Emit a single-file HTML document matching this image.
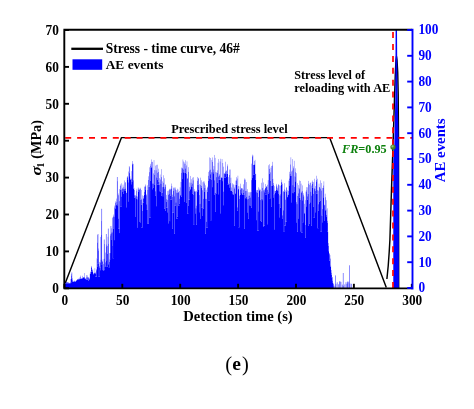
<!DOCTYPE html><html><head><meta charset="utf-8"><style>html,body{margin:0;padding:0;background:#fff;width:474px;height:409px;overflow:hidden}svg{display:block;filter:blur(0.4px);font-family:"Liberation Serif",serif}</style></head><body><svg width="474" height="409" viewBox="0 0 474 409"><rect width="474" height="409" fill="#fff"/><g fill="none" stroke="#000" stroke-width="1.45" stroke-linejoin="round"><polyline points="65.3,283 121.5,137.6 329.6,137.6 386.3,287.5"/><polyline points="386.9,279 388.2,266 389.2,252 389.9,240 391.0,205 391.8,180 393,147 393.9,118 394.6,95 395.4,72 396.0,60 396.5,56.5 397.0,60 397.7,72 398.2,95 398.5,140 398.7,288"/></g><g fill="#0000ff"><rect x="64.60" y="283.30" width="0.40" height="4.70" fill-opacity="1.00"/><rect x="64.60" y="283.20" width="0.40" height="0.10" fill-opacity="0.72"/><rect x="65.00" y="283.30" width="1.00" height="4.70" fill-opacity="1.00"/><rect x="65.00" y="283.19" width="1.00" height="0.11" fill-opacity="0.44"/><rect x="65.00" y="282.60" width="1.00" height="0.59" fill-opacity="0.29"/><rect x="66.00" y="283.30" width="1.00" height="4.70" fill-opacity="1.00"/><rect x="66.00" y="283.19" width="1.00" height="0.11" fill-opacity="0.71"/><rect x="66.00" y="282.09" width="1.00" height="1.10" fill-opacity="0.57"/><rect x="66.00" y="282.05" width="1.00" height="0.04" fill-opacity="0.28"/><rect x="67.00" y="283.30" width="1.00" height="4.70" fill-opacity="1.00"/><rect x="67.00" y="282.17" width="1.00" height="1.13" fill-opacity="0.58"/><rect x="67.00" y="282.12" width="1.00" height="0.05" fill-opacity="0.30"/><rect x="67.00" y="282.05" width="1.00" height="0.07" fill-opacity="0.01"/><rect x="68.00" y="283.30" width="1.00" height="4.70" fill-opacity="1.00"/><rect x="68.00" y="282.60" width="1.00" height="0.70" fill-opacity="0.55"/><rect x="68.00" y="282.26" width="1.00" height="0.33" fill-opacity="0.29"/><rect x="69.00" y="283.30" width="1.00" height="4.70" fill-opacity="1.00"/><rect x="69.00" y="283.21" width="1.00" height="0.09" fill-opacity="0.13"/><rect x="69.00" y="282.60" width="1.00" height="0.62" fill-opacity="0.03"/><rect x="70.00" y="283.21" width="1.00" height="4.79" fill-opacity="1.00"/><rect x="70.00" y="282.93" width="1.00" height="0.28" fill-opacity="0.81"/><rect x="70.00" y="282.28" width="1.00" height="0.64" fill-opacity="0.52"/><rect x="70.00" y="279.02" width="1.00" height="3.27" fill-opacity="0.29"/><rect x="71.00" y="282.28" width="1.00" height="5.72" fill-opacity="1.00"/><rect x="71.00" y="278.66" width="1.00" height="3.63" fill-opacity="0.94"/><rect x="71.00" y="278.02" width="1.00" height="0.63" fill-opacity="0.65"/><rect x="71.00" y="275.71" width="1.00" height="2.31" fill-opacity="0.58"/><rect x="71.00" y="274.10" width="1.00" height="1.61" fill-opacity="0.29"/><rect x="72.00" y="281.53" width="1.00" height="6.47" fill-opacity="1.00"/><rect x="72.00" y="281.41" width="1.00" height="0.12" fill-opacity="0.80"/><rect x="72.00" y="279.64" width="1.00" height="1.77" fill-opacity="0.51"/><rect x="72.00" y="278.02" width="1.00" height="1.62" fill-opacity="0.22"/><rect x="73.00" y="281.73" width="1.00" height="6.27" fill-opacity="1.00"/><rect x="73.00" y="281.60" width="1.00" height="0.13" fill-opacity="0.71"/><rect x="73.00" y="281.57" width="1.00" height="0.03" fill-opacity="0.42"/><rect x="73.00" y="281.53" width="1.00" height="0.03" fill-opacity="0.13"/><rect x="73.00" y="280.69" width="1.00" height="0.85" fill-opacity="0.05"/><rect x="74.00" y="281.99" width="1.00" height="6.01" fill-opacity="1.00"/><rect x="74.00" y="281.33" width="1.00" height="0.66" fill-opacity="0.82"/><rect x="74.00" y="280.81" width="1.00" height="0.52" fill-opacity="0.53"/><rect x="74.00" y="280.69" width="1.00" height="0.12" fill-opacity="0.24"/><rect x="75.00" y="281.99" width="1.00" height="6.01" fill-opacity="1.00"/><rect x="75.00" y="281.74" width="1.00" height="0.25" fill-opacity="0.89"/><rect x="75.00" y="281.22" width="1.00" height="0.52" fill-opacity="0.60"/><rect x="75.00" y="281.16" width="1.00" height="0.06" fill-opacity="0.31"/><rect x="75.00" y="280.88" width="1.00" height="0.29" fill-opacity="0.02"/><rect x="76.00" y="280.88" width="1.00" height="7.12" fill-opacity="1.00"/><rect x="76.00" y="280.30" width="1.00" height="0.58" fill-opacity="0.73"/><rect x="76.00" y="280.20" width="1.00" height="0.10" fill-opacity="0.44"/><rect x="76.00" y="280.01" width="1.00" height="0.19" fill-opacity="0.15"/><rect x="77.00" y="280.01" width="1.00" height="7.99" fill-opacity="1.00"/><rect x="77.00" y="279.49" width="1.00" height="0.52" fill-opacity="0.86"/><rect x="77.00" y="279.43" width="1.00" height="0.06" fill-opacity="0.57"/><rect x="77.00" y="278.98" width="1.00" height="0.44" fill-opacity="0.29"/><rect x="78.00" y="279.43" width="1.00" height="8.57" fill-opacity="1.00"/><rect x="78.00" y="279.37" width="1.00" height="0.06" fill-opacity="0.99"/><rect x="78.00" y="279.31" width="1.00" height="0.06" fill-opacity="0.70"/><rect x="78.00" y="279.20" width="1.00" height="0.12" fill-opacity="0.41"/><rect x="78.00" y="278.53" width="1.00" height="0.67" fill-opacity="0.29"/><rect x="79.00" y="279.20" width="1.00" height="8.80" fill-opacity="1.00"/><rect x="79.00" y="279.02" width="1.00" height="0.17" fill-opacity="0.84"/><rect x="79.00" y="279.00" width="1.00" height="0.03" fill-opacity="0.58"/><rect x="79.00" y="277.58" width="1.00" height="1.41" fill-opacity="0.29"/><rect x="80.00" y="279.02" width="1.00" height="8.98" fill-opacity="1.00"/><rect x="80.00" y="278.86" width="1.00" height="0.16" fill-opacity="0.97"/><rect x="80.00" y="278.69" width="1.00" height="0.17" fill-opacity="0.68"/><rect x="80.00" y="277.15" width="1.00" height="1.54" fill-opacity="0.58"/><rect x="80.00" y="275.59" width="1.00" height="1.56" fill-opacity="0.29"/><rect x="81.00" y="278.69" width="1.00" height="9.31" fill-opacity="1.00"/><rect x="81.00" y="278.60" width="1.00" height="0.09" fill-opacity="0.81"/><rect x="81.00" y="278.51" width="1.00" height="0.09" fill-opacity="0.52"/><rect x="81.00" y="278.43" width="1.00" height="0.09" fill-opacity="0.23"/><rect x="82.00" y="278.43" width="1.00" height="9.57" fill-opacity="1.00"/><rect x="82.00" y="278.05" width="1.00" height="0.37" fill-opacity="0.94"/><rect x="82.00" y="277.85" width="1.00" height="0.20" fill-opacity="0.65"/><rect x="82.00" y="277.65" width="1.00" height="0.20" fill-opacity="0.36"/><rect x="82.00" y="275.79" width="1.00" height="1.86" fill-opacity="0.29"/><rect x="83.00" y="277.65" width="1.00" height="10.35" fill-opacity="1.00"/><rect x="83.00" y="277.29" width="1.00" height="0.36" fill-opacity="0.78"/><rect x="83.00" y="277.24" width="1.00" height="0.05" fill-opacity="0.49"/><rect x="83.00" y="277.04" width="1.00" height="0.20" fill-opacity="0.20"/><rect x="84.00" y="278.22" width="1.00" height="9.78" fill-opacity="1.00"/><rect x="84.00" y="277.58" width="1.00" height="0.64" fill-opacity="0.95"/><rect x="84.00" y="277.26" width="1.00" height="0.32" fill-opacity="0.67"/><rect x="84.00" y="277.04" width="1.00" height="0.22" fill-opacity="0.38"/><rect x="84.00" y="273.01" width="1.00" height="4.03" fill-opacity="0.29"/><rect x="85.00" y="279.11" width="1.00" height="8.89" fill-opacity="1.00"/><rect x="85.00" y="278.86" width="1.00" height="0.25" fill-opacity="0.82"/><rect x="85.00" y="278.54" width="1.00" height="0.32" fill-opacity="0.53"/><rect x="85.00" y="278.22" width="1.00" height="0.32" fill-opacity="0.24"/><rect x="86.00" y="279.69" width="1.00" height="8.31" fill-opacity="1.00"/><rect x="86.00" y="279.11" width="1.00" height="0.58" fill-opacity="0.71"/><rect x="86.00" y="277.29" width="1.00" height="1.82" fill-opacity="0.60"/><rect x="86.00" y="275.36" width="1.00" height="1.93" fill-opacity="0.31"/><rect x="86.00" y="275.00" width="1.00" height="0.36" fill-opacity="0.29"/><rect x="87.00" y="279.73" width="1.00" height="8.27" fill-opacity="1.00"/><rect x="87.00" y="277.26" width="1.00" height="2.48" fill-opacity="0.71"/><rect x="87.00" y="277.19" width="1.00" height="0.06" fill-opacity="0.42"/><rect x="87.00" y="275.36" width="1.00" height="1.83" fill-opacity="0.27"/><rect x="88.00" y="280.64" width="1.00" height="7.36" fill-opacity="1.00"/><rect x="88.00" y="278.08" width="1.00" height="2.56" fill-opacity="0.71"/><rect x="88.00" y="277.19" width="1.00" height="0.89" fill-opacity="0.43"/><rect x="88.00" y="277.17" width="1.00" height="0.02" fill-opacity="0.29"/><rect x="89.00" y="279.33" width="1.00" height="8.67" fill-opacity="1.00"/><rect x="89.00" y="279.09" width="1.00" height="0.24" fill-opacity="0.71"/><rect x="89.00" y="278.08" width="1.00" height="1.01" fill-opacity="0.42"/><rect x="89.00" y="277.82" width="1.00" height="0.26" fill-opacity="0.41"/><rect x="89.00" y="273.74" width="1.00" height="4.08" fill-opacity="0.12"/><rect x="90.00" y="273.74" width="1.00" height="14.26" fill-opacity="1.00"/><rect x="90.00" y="273.54" width="1.00" height="0.19" fill-opacity="0.83"/><rect x="90.00" y="272.20" width="1.00" height="1.34" fill-opacity="0.55"/><rect x="90.00" y="271.52" width="1.00" height="0.68" fill-opacity="0.26"/><rect x="91.00" y="271.52" width="1.00" height="16.48" fill-opacity="1.00"/><rect x="91.00" y="269.89" width="1.00" height="1.63" fill-opacity="0.97"/><rect x="91.00" y="267.93" width="1.00" height="1.96" fill-opacity="0.87"/><rect x="91.00" y="266.98" width="1.00" height="0.95" fill-opacity="0.58"/><rect x="91.00" y="265.93" width="1.00" height="1.06" fill-opacity="0.29"/><rect x="92.00" y="271.86" width="1.00" height="16.14" fill-opacity="1.00"/><rect x="92.00" y="270.33" width="1.00" height="1.52" fill-opacity="0.71"/><rect x="92.00" y="269.89" width="1.00" height="0.44" fill-opacity="0.42"/><rect x="92.00" y="269.17" width="1.00" height="0.72" fill-opacity="0.23"/><rect x="93.00" y="274.26" width="1.00" height="13.74" fill-opacity="1.00"/><rect x="93.00" y="273.84" width="1.00" height="0.42" fill-opacity="0.71"/><rect x="93.00" y="273.36" width="1.00" height="0.48" fill-opacity="0.42"/><rect x="93.00" y="272.53" width="1.00" height="0.83" fill-opacity="0.13"/><rect x="93.00" y="269.17" width="1.00" height="3.36" fill-opacity="0.06"/><rect x="94.00" y="273.22" width="1.00" height="14.78" fill-opacity="1.00"/><rect x="94.00" y="273.12" width="1.00" height="0.10" fill-opacity="0.71"/><rect x="94.00" y="272.53" width="1.00" height="0.59" fill-opacity="0.42"/><rect x="94.00" y="268.15" width="1.00" height="4.38" fill-opacity="0.20"/><rect x="95.00" y="276.56" width="1.00" height="11.44" fill-opacity="1.00"/><rect x="95.00" y="273.42" width="1.00" height="3.14" fill-opacity="0.96"/><rect x="95.00" y="273.41" width="1.00" height="0.01" fill-opacity="0.67"/><rect x="95.00" y="272.36" width="1.00" height="1.05" fill-opacity="0.38"/><rect x="95.00" y="268.15" width="1.00" height="4.21" fill-opacity="0.09"/><rect x="96.00" y="276.56" width="1.00" height="11.44" fill-opacity="1.00"/><rect x="96.00" y="270.24" width="1.00" height="6.32" fill-opacity="0.75"/><rect x="96.00" y="269.18" width="1.00" height="1.06" fill-opacity="0.47"/><rect x="96.00" y="258.34" width="1.00" height="10.84" fill-opacity="0.18"/><rect x="97.00" y="266.48" width="1.00" height="21.52" fill-opacity="1.00"/><rect x="97.00" y="263.56" width="1.00" height="2.92" fill-opacity="0.71"/><rect x="97.00" y="258.34" width="1.00" height="5.23" fill-opacity="0.69"/><rect x="97.00" y="242.66" width="1.00" height="15.67" fill-opacity="0.58"/><rect x="97.00" y="235.07" width="1.00" height="7.60" fill-opacity="0.29"/><rect x="98.00" y="276.45" width="1.00" height="11.55" fill-opacity="1.00"/><rect x="98.00" y="263.56" width="1.00" height="12.89" fill-opacity="0.85"/><rect x="98.00" y="250.61" width="1.00" height="12.95" fill-opacity="0.58"/><rect x="98.00" y="248.49" width="1.00" height="2.12" fill-opacity="0.29"/><rect x="99.00" y="276.45" width="1.00" height="11.55" fill-opacity="1.00"/><rect x="99.00" y="267.39" width="1.00" height="9.06" fill-opacity="0.86"/><rect x="99.00" y="266.19" width="1.00" height="1.20" fill-opacity="0.58"/><rect x="99.00" y="261.88" width="1.00" height="4.31" fill-opacity="0.29"/><rect x="100.00" y="270.14" width="1.00" height="17.86" fill-opacity="1.00"/><rect x="100.00" y="267.39" width="1.00" height="2.75" fill-opacity="0.71"/><rect x="100.00" y="262.32" width="1.00" height="5.07" fill-opacity="0.70"/><rect x="100.00" y="259.42" width="1.00" height="2.90" fill-opacity="0.41"/><rect x="100.00" y="236.93" width="1.00" height="22.49" fill-opacity="0.29"/><rect x="101.00" y="264.89" width="1.00" height="23.11" fill-opacity="1.00"/><rect x="101.00" y="259.42" width="1.00" height="5.47" fill-opacity="0.75"/><rect x="101.00" y="234.89" width="1.00" height="24.53" fill-opacity="0.58"/><rect x="101.00" y="221.07" width="1.00" height="13.82" fill-opacity="0.29"/><rect x="102.00" y="270.06" width="1.00" height="17.94" fill-opacity="1.00"/><rect x="102.00" y="264.89" width="1.00" height="5.17" fill-opacity="0.71"/><rect x="102.00" y="262.00" width="1.00" height="2.89" fill-opacity="0.68"/><rect x="102.00" y="260.83" width="1.00" height="1.17" fill-opacity="0.39"/><rect x="102.00" y="259.01" width="1.00" height="1.82" fill-opacity="0.10"/><rect x="103.00" y="270.74" width="1.00" height="17.26" fill-opacity="1.00"/><rect x="103.00" y="269.65" width="1.00" height="1.09" fill-opacity="0.71"/><rect x="103.00" y="264.08" width="1.00" height="5.56" fill-opacity="0.48"/><rect x="103.00" y="259.01" width="1.00" height="5.08" fill-opacity="0.19"/><rect x="104.00" y="270.14" width="1.00" height="17.86" fill-opacity="1.00"/><rect x="104.00" y="269.65" width="1.00" height="0.50" fill-opacity="0.71"/><rect x="104.00" y="266.77" width="1.00" height="2.87" fill-opacity="0.65"/><rect x="104.00" y="258.71" width="1.00" height="8.06" fill-opacity="0.58"/><rect x="104.00" y="244.05" width="1.00" height="14.65" fill-opacity="0.29"/><rect x="105.00" y="266.77" width="1.00" height="21.23" fill-opacity="1.00"/><rect x="105.00" y="266.09" width="1.00" height="0.68" fill-opacity="0.78"/><rect x="105.00" y="262.28" width="1.00" height="3.81" fill-opacity="0.58"/><rect x="105.00" y="252.57" width="1.00" height="9.71" fill-opacity="0.29"/><rect x="106.00" y="266.60" width="1.00" height="21.40" fill-opacity="1.00"/><rect x="106.00" y="266.09" width="1.00" height="0.51" fill-opacity="0.96"/><rect x="106.00" y="260.46" width="1.00" height="5.64" fill-opacity="0.87"/><rect x="106.00" y="246.52" width="1.00" height="13.93" fill-opacity="0.58"/><rect x="106.00" y="244.55" width="1.00" height="1.97" fill-opacity="0.29"/><rect x="107.00" y="266.60" width="1.00" height="21.40" fill-opacity="1.00"/><rect x="107.00" y="253.74" width="1.00" height="12.86" fill-opacity="0.75"/><rect x="107.00" y="245.87" width="1.00" height="7.87" fill-opacity="0.46"/><rect x="107.00" y="236.75" width="1.00" height="9.12" fill-opacity="0.17"/><rect x="108.00" y="267.25" width="1.00" height="20.75" fill-opacity="1.00"/><rect x="108.00" y="264.91" width="1.00" height="2.34" fill-opacity="0.98"/><rect x="108.00" y="264.08" width="1.00" height="0.83" fill-opacity="0.69"/><rect x="108.00" y="243.87" width="1.00" height="20.21" fill-opacity="0.40"/><rect x="108.00" y="236.75" width="1.00" height="7.11" fill-opacity="0.11"/><rect x="109.00" y="267.25" width="1.00" height="20.75" fill-opacity="1.00"/><rect x="109.00" y="261.70" width="1.00" height="5.55" fill-opacity="0.73"/><rect x="109.00" y="259.19" width="1.00" height="2.50" fill-opacity="0.44"/><rect x="109.00" y="253.06" width="1.00" height="6.13" fill-opacity="0.29"/><rect x="110.00" y="259.19" width="1.00" height="28.81" fill-opacity="1.00"/><rect x="110.00" y="253.05" width="1.00" height="6.15" fill-opacity="0.86"/><rect x="110.00" y="235.49" width="1.00" height="17.56" fill-opacity="0.57"/><rect x="110.00" y="233.94" width="1.00" height="1.55" fill-opacity="0.28"/><rect x="111.00" y="239.98" width="1.00" height="48.02" fill-opacity="1.00"/><rect x="111.00" y="233.94" width="1.00" height="6.03" fill-opacity="0.71"/><rect x="111.00" y="233.19" width="1.00" height="0.75" fill-opacity="0.70"/><rect x="111.00" y="231.73" width="1.00" height="1.46" fill-opacity="0.41"/><rect x="111.00" y="228.32" width="1.00" height="3.41" fill-opacity="0.29"/><rect x="112.00" y="258.18" width="1.00" height="29.82" fill-opacity="1.00"/><rect x="112.00" y="246.00" width="1.00" height="12.18" fill-opacity="0.75"/><rect x="112.00" y="232.62" width="1.00" height="13.37" fill-opacity="0.46"/><rect x="112.00" y="231.73" width="1.00" height="0.89" fill-opacity="0.17"/><rect x="113.00" y="258.18" width="1.00" height="29.82" fill-opacity="1.00"/><rect x="113.00" y="228.91" width="1.00" height="29.27" fill-opacity="0.96"/><rect x="113.00" y="216.45" width="1.00" height="12.47" fill-opacity="0.67"/><rect x="113.00" y="216.42" width="1.00" height="0.02" fill-opacity="0.39"/><rect x="113.00" y="214.52" width="1.00" height="1.90" fill-opacity="0.29"/><rect x="114.00" y="240.08" width="1.00" height="47.92" fill-opacity="1.00"/><rect x="114.00" y="216.42" width="1.00" height="23.66" fill-opacity="0.71"/><rect x="114.00" y="207.41" width="1.00" height="9.01" fill-opacity="0.52"/><rect x="114.00" y="205.58" width="1.00" height="1.83" fill-opacity="0.29"/><rect x="115.00" y="208.54" width="1.00" height="79.46" fill-opacity="1.00"/><rect x="115.00" y="207.41" width="1.00" height="1.13" fill-opacity="0.71"/><rect x="115.00" y="205.14" width="1.00" height="2.26" fill-opacity="0.65"/><rect x="115.00" y="202.77" width="1.00" height="2.37" fill-opacity="0.58"/><rect x="115.00" y="201.35" width="1.00" height="1.42" fill-opacity="0.29"/><rect x="116.00" y="205.14" width="1.00" height="82.86" fill-opacity="1.00"/><rect x="116.00" y="204.59" width="1.00" height="0.55" fill-opacity="0.78"/><rect x="116.00" y="201.65" width="1.00" height="2.95" fill-opacity="0.49"/><rect x="116.00" y="198.58" width="1.00" height="3.06" fill-opacity="0.29"/><rect x="117.00" y="205.93" width="1.00" height="82.07" fill-opacity="1.00"/><rect x="117.00" y="204.34" width="1.00" height="1.58" fill-opacity="0.71"/><rect x="117.00" y="201.65" width="1.00" height="2.70" fill-opacity="0.42"/><rect x="117.00" y="193.43" width="1.00" height="8.22" fill-opacity="0.33"/><rect x="117.00" y="181.24" width="1.00" height="12.19" fill-opacity="0.29"/><rect x="118.00" y="228.53" width="1.00" height="59.47" fill-opacity="1.00"/><rect x="118.00" y="218.47" width="1.00" height="10.06" fill-opacity="0.83"/><rect x="118.00" y="195.20" width="1.00" height="23.27" fill-opacity="0.54"/><rect x="118.00" y="193.43" width="1.00" height="1.77" fill-opacity="0.25"/><rect x="119.00" y="233.03" width="1.00" height="54.97" fill-opacity="1.00"/><rect x="119.00" y="228.53" width="1.00" height="4.50" fill-opacity="0.71"/><rect x="119.00" y="201.12" width="1.00" height="27.41" fill-opacity="0.59"/><rect x="119.00" y="189.07" width="1.00" height="12.05" fill-opacity="0.31"/><rect x="119.00" y="185.72" width="1.00" height="3.35" fill-opacity="0.02"/><rect x="120.00" y="206.36" width="1.00" height="81.64" fill-opacity="1.00"/><rect x="120.00" y="189.70" width="1.00" height="16.66" fill-opacity="0.85"/><rect x="120.00" y="185.72" width="1.00" height="3.98" fill-opacity="0.56"/><rect x="120.00" y="184.45" width="1.00" height="1.27" fill-opacity="0.29"/><rect x="121.00" y="206.36" width="1.00" height="81.64" fill-opacity="1.00"/><rect x="121.00" y="196.39" width="1.00" height="9.97" fill-opacity="0.86"/><rect x="121.00" y="189.49" width="1.00" height="6.90" fill-opacity="0.57"/><rect x="121.00" y="183.27" width="1.00" height="6.22" fill-opacity="0.28"/><rect x="122.00" y="192.00" width="1.00" height="96.00" fill-opacity="1.00"/><rect x="122.00" y="188.63" width="1.00" height="3.37" fill-opacity="0.71"/><rect x="122.00" y="187.68" width="1.00" height="0.95" fill-opacity="0.42"/><rect x="122.00" y="184.55" width="1.00" height="3.13" fill-opacity="0.13"/><rect x="122.00" y="183.27" width="1.00" height="1.28" fill-opacity="0.01"/><rect x="123.00" y="193.51" width="1.00" height="94.49" fill-opacity="1.00"/><rect x="123.00" y="188.60" width="1.00" height="4.91" fill-opacity="0.71"/><rect x="123.00" y="186.62" width="1.00" height="1.98" fill-opacity="0.42"/><rect x="123.00" y="184.55" width="1.00" height="2.07" fill-opacity="0.17"/><rect x="124.00" y="190.29" width="1.00" height="97.71" fill-opacity="1.00"/><rect x="124.00" y="189.01" width="1.00" height="1.28" fill-opacity="0.71"/><rect x="124.00" y="186.62" width="1.00" height="2.39" fill-opacity="0.42"/><rect x="124.00" y="182.38" width="1.00" height="4.24" fill-opacity="0.38"/><rect x="124.00" y="180.50" width="1.00" height="1.88" fill-opacity="0.29"/><rect x="125.00" y="190.55" width="1.00" height="97.45" fill-opacity="1.00"/><rect x="125.00" y="188.43" width="1.00" height="2.12" fill-opacity="0.77"/><rect x="125.00" y="182.38" width="1.00" height="6.05" fill-opacity="0.48"/><rect x="125.00" y="182.25" width="1.00" height="0.12" fill-opacity="0.29"/><rect x="126.00" y="207.21" width="1.00" height="80.79" fill-opacity="1.00"/><rect x="126.00" y="192.92" width="1.00" height="14.29" fill-opacity="0.71"/><rect x="126.00" y="192.67" width="1.00" height="0.25" fill-opacity="0.42"/><rect x="126.00" y="190.55" width="1.00" height="2.13" fill-opacity="0.13"/><rect x="126.00" y="177.46" width="1.00" height="13.09" fill-opacity="0.07"/><rect x="127.00" y="179.29" width="1.00" height="108.71" fill-opacity="1.00"/><rect x="127.00" y="177.46" width="1.00" height="1.83" fill-opacity="0.80"/><rect x="127.00" y="176.99" width="1.00" height="0.47" fill-opacity="0.58"/><rect x="127.00" y="176.00" width="1.00" height="0.98" fill-opacity="0.29"/><rect x="128.00" y="201.30" width="1.00" height="86.70" fill-opacity="1.00"/><rect x="128.00" y="182.28" width="1.00" height="19.02" fill-opacity="0.71"/><rect x="128.00" y="179.29" width="1.00" height="2.99" fill-opacity="0.42"/><rect x="128.00" y="171.54" width="1.00" height="7.75" fill-opacity="0.33"/><rect x="128.00" y="166.00" width="1.00" height="5.54" fill-opacity="0.04"/><rect x="129.00" y="176.13" width="1.00" height="111.87" fill-opacity="1.00"/><rect x="129.00" y="173.10" width="1.00" height="3.03" fill-opacity="0.83"/><rect x="129.00" y="167.17" width="1.00" height="5.93" fill-opacity="0.54"/><rect x="129.00" y="166.00" width="1.00" height="1.17" fill-opacity="0.25"/><rect x="130.00" y="179.70" width="1.00" height="108.30" fill-opacity="1.00"/><rect x="130.00" y="179.60" width="1.00" height="0.10" fill-opacity="0.71"/><rect x="130.00" y="178.67" width="1.00" height="0.93" fill-opacity="0.42"/><rect x="130.00" y="176.13" width="1.00" height="2.55" fill-opacity="0.13"/><rect x="130.00" y="171.12" width="1.00" height="5.01" fill-opacity="0.01"/><rect x="131.00" y="184.18" width="1.00" height="103.82" fill-opacity="1.00"/><rect x="131.00" y="181.97" width="1.00" height="2.21" fill-opacity="0.71"/><rect x="131.00" y="178.61" width="1.00" height="3.37" fill-opacity="0.56"/><rect x="131.00" y="171.12" width="1.00" height="7.49" fill-opacity="0.27"/><rect x="132.00" y="181.97" width="1.00" height="106.03" fill-opacity="1.00"/><rect x="132.00" y="164.31" width="1.00" height="17.66" fill-opacity="0.86"/><rect x="132.00" y="163.53" width="1.00" height="0.78" fill-opacity="0.57"/><rect x="132.00" y="161.05" width="1.00" height="2.48" fill-opacity="0.29"/><rect x="133.00" y="188.81" width="1.00" height="99.19" fill-opacity="1.00"/><rect x="133.00" y="187.80" width="1.00" height="1.01" fill-opacity="0.71"/><rect x="133.00" y="180.26" width="1.00" height="7.54" fill-opacity="0.59"/><rect x="133.00" y="163.87" width="1.00" height="16.39" fill-opacity="0.30"/><rect x="133.00" y="163.53" width="1.00" height="0.34" fill-opacity="0.01"/><rect x="134.00" y="197.61" width="1.00" height="90.39" fill-opacity="1.00"/><rect x="134.00" y="195.17" width="1.00" height="2.44" fill-opacity="0.75"/><rect x="134.00" y="190.01" width="1.00" height="5.16" fill-opacity="0.46"/><rect x="134.00" y="187.80" width="1.00" height="2.21" fill-opacity="0.17"/><rect x="135.00" y="216.41" width="1.00" height="71.59" fill-opacity="1.00"/><rect x="135.00" y="197.61" width="1.00" height="18.80" fill-opacity="0.71"/><rect x="135.00" y="196.55" width="1.00" height="1.06" fill-opacity="0.67"/><rect x="135.00" y="195.90" width="1.00" height="0.65" fill-opacity="0.38"/><rect x="135.00" y="195.01" width="1.00" height="0.89" fill-opacity="0.29"/><rect x="136.00" y="199.02" width="1.00" height="88.98" fill-opacity="1.00"/><rect x="136.00" y="195.90" width="1.00" height="3.12" fill-opacity="0.71"/><rect x="136.00" y="190.60" width="1.00" height="5.30" fill-opacity="0.51"/><rect x="136.00" y="188.74" width="1.00" height="1.86" fill-opacity="0.22"/><rect x="137.00" y="227.35" width="1.00" height="60.65" fill-opacity="1.00"/><rect x="137.00" y="199.25" width="1.00" height="28.10" fill-opacity="0.71"/><rect x="137.00" y="196.51" width="1.00" height="2.74" fill-opacity="0.42"/><rect x="137.00" y="188.74" width="1.00" height="7.78" fill-opacity="0.13"/><rect x="137.00" y="187.36" width="1.00" height="1.38" fill-opacity="0.07"/><rect x="138.00" y="191.97" width="1.00" height="96.03" fill-opacity="1.00"/><rect x="138.00" y="189.44" width="1.00" height="2.53" fill-opacity="0.71"/><rect x="138.00" y="188.13" width="1.00" height="1.31" fill-opacity="0.42"/><rect x="138.00" y="187.36" width="1.00" height="0.77" fill-opacity="0.22"/><rect x="139.00" y="221.39" width="1.00" height="66.61" fill-opacity="1.00"/><rect x="139.00" y="189.68" width="1.00" height="31.71" fill-opacity="0.71"/><rect x="139.00" y="189.18" width="1.00" height="0.49" fill-opacity="0.42"/><rect x="139.00" y="188.13" width="1.00" height="1.05" fill-opacity="0.13"/><rect x="139.00" y="187.75" width="1.00" height="0.38" fill-opacity="0.04"/><rect x="140.00" y="222.31" width="1.00" height="65.69" fill-opacity="1.00"/><rect x="140.00" y="199.76" width="1.00" height="22.55" fill-opacity="0.71"/><rect x="140.00" y="188.78" width="1.00" height="10.98" fill-opacity="0.54"/><rect x="140.00" y="187.75" width="1.00" height="1.03" fill-opacity="0.25"/><rect x="141.00" y="227.34" width="1.00" height="60.66" fill-opacity="1.00"/><rect x="141.00" y="204.86" width="1.00" height="22.48" fill-opacity="0.99"/><rect x="141.00" y="199.76" width="1.00" height="5.10" fill-opacity="0.70"/><rect x="141.00" y="198.77" width="1.00" height="0.99" fill-opacity="0.58"/><rect x="141.00" y="190.00" width="1.00" height="8.77" fill-opacity="0.29"/><rect x="142.00" y="227.34" width="1.00" height="60.66" fill-opacity="1.00"/><rect x="142.00" y="210.99" width="1.00" height="16.35" fill-opacity="0.72"/><rect x="142.00" y="202.56" width="1.00" height="8.43" fill-opacity="0.44"/><rect x="142.00" y="195.29" width="1.00" height="7.27" fill-opacity="0.29"/><rect x="143.00" y="202.56" width="1.00" height="85.44" fill-opacity="1.00"/><rect x="143.00" y="198.99" width="1.00" height="3.57" fill-opacity="0.86"/><rect x="143.00" y="198.07" width="1.00" height="0.93" fill-opacity="0.57"/><rect x="143.00" y="196.00" width="1.00" height="2.07" fill-opacity="0.28"/><rect x="144.00" y="196.00" width="1.00" height="92.00" fill-opacity="1.00"/><rect x="144.00" y="194.82" width="1.00" height="1.18" fill-opacity="0.99"/><rect x="144.00" y="191.87" width="1.00" height="2.94" fill-opacity="0.70"/><rect x="144.00" y="186.86" width="1.00" height="5.01" fill-opacity="0.41"/><rect x="144.00" y="186.51" width="1.00" height="0.35" fill-opacity="0.29"/><rect x="145.00" y="189.98" width="1.00" height="98.02" fill-opacity="1.00"/><rect x="145.00" y="186.86" width="1.00" height="3.12" fill-opacity="0.71"/><rect x="145.00" y="185.66" width="1.00" height="1.20" fill-opacity="0.54"/><rect x="145.00" y="184.48" width="1.00" height="1.17" fill-opacity="0.29"/><rect x="146.00" y="209.95" width="1.00" height="78.05" fill-opacity="1.00"/><rect x="146.00" y="204.22" width="1.00" height="5.73" fill-opacity="0.91"/><rect x="146.00" y="195.24" width="1.00" height="8.97" fill-opacity="0.62"/><rect x="146.00" y="194.33" width="1.00" height="0.92" fill-opacity="0.33"/><rect x="146.00" y="185.66" width="1.00" height="8.67" fill-opacity="0.04"/><rect x="147.00" y="223.43" width="1.00" height="64.57" fill-opacity="1.00"/><rect x="147.00" y="209.95" width="1.00" height="13.47" fill-opacity="0.71"/><rect x="147.00" y="189.96" width="1.00" height="19.99" fill-opacity="0.51"/><rect x="147.00" y="185.33" width="1.00" height="4.63" fill-opacity="0.29"/><rect x="148.00" y="223.72" width="1.00" height="64.28" fill-opacity="1.00"/><rect x="148.00" y="189.96" width="1.00" height="33.77" fill-opacity="0.71"/><rect x="148.00" y="186.58" width="1.00" height="3.38" fill-opacity="0.65"/><rect x="148.00" y="179.98" width="1.00" height="6.60" fill-opacity="0.58"/><rect x="148.00" y="176.26" width="1.00" height="3.72" fill-opacity="0.29"/><rect x="149.00" y="217.62" width="1.00" height="70.38" fill-opacity="1.00"/><rect x="149.00" y="186.58" width="1.00" height="31.05" fill-opacity="0.80"/><rect x="149.00" y="172.13" width="1.00" height="14.45" fill-opacity="0.58"/><rect x="149.00" y="167.30" width="1.00" height="4.82" fill-opacity="0.29"/><rect x="150.00" y="217.62" width="1.00" height="70.38" fill-opacity="1.00"/><rect x="150.00" y="180.58" width="1.00" height="37.05" fill-opacity="0.91"/><rect x="150.00" y="167.73" width="1.00" height="12.85" fill-opacity="0.62"/><rect x="150.00" y="165.67" width="1.00" height="2.06" fill-opacity="0.58"/><rect x="150.00" y="163.82" width="1.00" height="1.85" fill-opacity="0.29"/><rect x="151.00" y="167.73" width="1.00" height="120.27" fill-opacity="1.00"/><rect x="151.00" y="166.88" width="1.00" height="0.85" fill-opacity="0.75"/><rect x="151.00" y="161.98" width="1.00" height="4.90" fill-opacity="0.46"/><rect x="151.00" y="159.47" width="1.00" height="2.50" fill-opacity="0.29"/><rect x="152.00" y="189.18" width="1.00" height="98.82" fill-opacity="1.00"/><rect x="152.00" y="183.43" width="1.00" height="5.75" fill-opacity="0.71"/><rect x="152.00" y="183.33" width="1.00" height="0.10" fill-opacity="0.70"/><rect x="152.00" y="161.98" width="1.00" height="21.36" fill-opacity="0.41"/><rect x="152.00" y="161.78" width="1.00" height="0.20" fill-opacity="0.29"/><rect x="153.00" y="187.70" width="1.00" height="100.30" fill-opacity="1.00"/><rect x="153.00" y="183.43" width="1.00" height="4.27" fill-opacity="0.71"/><rect x="153.00" y="173.39" width="1.00" height="10.04" fill-opacity="0.43"/><rect x="153.00" y="160.07" width="1.00" height="13.31" fill-opacity="0.14"/><rect x="154.00" y="184.39" width="1.00" height="103.61" fill-opacity="1.00"/><rect x="154.00" y="174.75" width="1.00" height="9.64" fill-opacity="0.72"/><rect x="154.00" y="170.06" width="1.00" height="4.70" fill-opacity="0.43"/><rect x="154.00" y="160.07" width="1.00" height="9.98" fill-opacity="0.15"/><rect x="155.00" y="195.89" width="1.00" height="92.11" fill-opacity="1.00"/><rect x="155.00" y="191.21" width="1.00" height="4.68" fill-opacity="0.71"/><rect x="155.00" y="184.39" width="1.00" height="6.82" fill-opacity="0.42"/><rect x="155.00" y="170.22" width="1.00" height="14.17" fill-opacity="0.41"/><rect x="155.00" y="165.60" width="1.00" height="4.62" fill-opacity="0.29"/><rect x="156.00" y="206.12" width="1.00" height="81.88" fill-opacity="1.00"/><rect x="156.00" y="177.33" width="1.00" height="28.79" fill-opacity="0.71"/><rect x="156.00" y="170.22" width="1.00" height="7.10" fill-opacity="0.46"/><rect x="156.00" y="164.88" width="1.00" height="5.35" fill-opacity="0.29"/><rect x="157.00" y="184.59" width="1.00" height="103.41" fill-opacity="1.00"/><rect x="157.00" y="179.49" width="1.00" height="5.10" fill-opacity="0.91"/><rect x="157.00" y="177.33" width="1.00" height="2.17" fill-opacity="0.62"/><rect x="157.00" y="172.71" width="1.00" height="4.62" fill-opacity="0.58"/><rect x="157.00" y="164.70" width="1.00" height="8.01" fill-opacity="0.29"/><rect x="158.00" y="184.59" width="1.00" height="103.41" fill-opacity="1.00"/><rect x="158.00" y="181.58" width="1.00" height="3.01" fill-opacity="0.80"/><rect x="158.00" y="171.98" width="1.00" height="9.60" fill-opacity="0.58"/><rect x="158.00" y="168.69" width="1.00" height="3.29" fill-opacity="0.29"/><rect x="159.00" y="191.15" width="1.00" height="96.85" fill-opacity="1.00"/><rect x="159.00" y="184.70" width="1.00" height="6.45" fill-opacity="0.71"/><rect x="159.00" y="181.58" width="1.00" height="3.13" fill-opacity="0.42"/><rect x="159.00" y="178.12" width="1.00" height="3.46" fill-opacity="0.35"/><rect x="159.00" y="174.47" width="1.00" height="3.64" fill-opacity="0.06"/><rect x="160.00" y="191.55" width="1.00" height="96.45" fill-opacity="1.00"/><rect x="160.00" y="183.32" width="1.00" height="8.23" fill-opacity="0.71"/><rect x="160.00" y="179.46" width="1.00" height="3.86" fill-opacity="0.51"/><rect x="160.00" y="174.47" width="1.00" height="4.99" fill-opacity="0.22"/><rect x="161.00" y="195.51" width="1.00" height="92.49" fill-opacity="1.00"/><rect x="161.00" y="192.79" width="1.00" height="2.73" fill-opacity="0.71"/><rect x="161.00" y="183.32" width="1.00" height="9.47" fill-opacity="0.67"/><rect x="161.00" y="177.08" width="1.00" height="6.24" fill-opacity="0.58"/><rect x="161.00" y="169.14" width="1.00" height="7.94" fill-opacity="0.29"/><rect x="162.00" y="196.09" width="1.00" height="91.91" fill-opacity="1.00"/><rect x="162.00" y="192.79" width="1.00" height="3.30" fill-opacity="0.83"/><rect x="162.00" y="187.13" width="1.00" height="5.66" fill-opacity="0.58"/><rect x="162.00" y="181.32" width="1.00" height="5.81" fill-opacity="0.29"/><rect x="163.00" y="196.09" width="1.00" height="91.91" fill-opacity="1.00"/><rect x="163.00" y="186.54" width="1.00" height="9.55" fill-opacity="0.88"/><rect x="163.00" y="182.66" width="1.00" height="3.88" fill-opacity="0.59"/><rect x="163.00" y="178.24" width="1.00" height="4.41" fill-opacity="0.30"/><rect x="163.00" y="175.27" width="1.00" height="2.97" fill-opacity="0.29"/><rect x="164.00" y="208.84" width="1.00" height="79.16" fill-opacity="1.00"/><rect x="164.00" y="188.55" width="1.00" height="20.29" fill-opacity="0.71"/><rect x="164.00" y="186.84" width="1.00" height="1.71" fill-opacity="0.42"/><rect x="164.00" y="178.24" width="1.00" height="8.60" fill-opacity="0.28"/><rect x="165.00" y="210.57" width="1.00" height="77.43" fill-opacity="1.00"/><rect x="165.00" y="186.84" width="1.00" height="23.73" fill-opacity="0.71"/><rect x="165.00" y="185.13" width="1.00" height="1.71" fill-opacity="0.56"/><rect x="165.00" y="184.22" width="1.00" height="0.90" fill-opacity="0.28"/><rect x="166.00" y="207.58" width="1.00" height="80.42" fill-opacity="1.00"/><rect x="166.00" y="201.93" width="1.00" height="5.65" fill-opacity="0.88"/><rect x="166.00" y="199.11" width="1.00" height="2.81" fill-opacity="0.59"/><rect x="166.00" y="194.87" width="1.00" height="4.24" fill-opacity="0.30"/><rect x="166.00" y="184.22" width="1.00" height="10.65" fill-opacity="0.01"/><rect x="167.00" y="212.23" width="1.00" height="75.77" fill-opacity="1.00"/><rect x="167.00" y="207.58" width="1.00" height="4.65" fill-opacity="0.71"/><rect x="167.00" y="199.85" width="1.00" height="7.72" fill-opacity="0.54"/><rect x="167.00" y="190.93" width="1.00" height="8.93" fill-opacity="0.25"/><rect x="168.00" y="223.22" width="1.00" height="64.78" fill-opacity="1.00"/><rect x="168.00" y="194.84" width="1.00" height="28.38" fill-opacity="0.71"/><rect x="168.00" y="194.01" width="1.00" height="0.84" fill-opacity="0.42"/><rect x="168.00" y="190.93" width="1.00" height="3.08" fill-opacity="0.33"/><rect x="168.00" y="190.57" width="1.00" height="0.36" fill-opacity="0.29"/><rect x="169.00" y="221.04" width="1.00" height="66.96" fill-opacity="1.00"/><rect x="169.00" y="194.01" width="1.00" height="27.03" fill-opacity="0.78"/><rect x="169.00" y="189.65" width="1.00" height="4.36" fill-opacity="0.58"/><rect x="169.00" y="188.83" width="1.00" height="0.82" fill-opacity="0.29"/><rect x="170.00" y="221.04" width="1.00" height="66.96" fill-opacity="1.00"/><rect x="170.00" y="199.56" width="1.00" height="21.48" fill-opacity="0.93"/><rect x="170.00" y="195.83" width="1.00" height="3.73" fill-opacity="0.87"/><rect x="170.00" y="189.52" width="1.00" height="6.31" fill-opacity="0.58"/><rect x="170.00" y="188.77" width="1.00" height="0.75" fill-opacity="0.29"/><rect x="171.00" y="199.56" width="1.00" height="88.44" fill-opacity="1.00"/><rect x="171.00" y="188.46" width="1.00" height="11.10" fill-opacity="0.77"/><rect x="171.00" y="185.92" width="1.00" height="2.55" fill-opacity="0.48"/><rect x="171.00" y="183.54" width="1.00" height="2.37" fill-opacity="0.29"/><rect x="172.00" y="228.54" width="1.00" height="59.46" fill-opacity="1.00"/><rect x="172.00" y="212.60" width="1.00" height="15.95" fill-opacity="0.71"/><rect x="172.00" y="196.95" width="1.00" height="15.65" fill-opacity="0.67"/><rect x="172.00" y="194.58" width="1.00" height="2.37" fill-opacity="0.38"/><rect x="172.00" y="185.92" width="1.00" height="8.67" fill-opacity="0.09"/><rect x="173.00" y="212.60" width="1.00" height="75.40" fill-opacity="1.00"/><rect x="173.00" y="190.75" width="1.00" height="21.84" fill-opacity="0.75"/><rect x="173.00" y="188.26" width="1.00" height="2.50" fill-opacity="0.46"/><rect x="173.00" y="187.56" width="1.00" height="0.70" fill-opacity="0.29"/><rect x="174.00" y="233.81" width="1.00" height="54.19" fill-opacity="1.00"/><rect x="174.00" y="205.86" width="1.00" height="27.95" fill-opacity="0.71"/><rect x="174.00" y="196.21" width="1.00" height="9.65" fill-opacity="0.70"/><rect x="174.00" y="188.26" width="1.00" height="7.95" fill-opacity="0.41"/><rect x="174.00" y="187.49" width="1.00" height="0.77" fill-opacity="0.29"/><rect x="175.00" y="205.86" width="1.00" height="82.14" fill-opacity="1.00"/><rect x="175.00" y="202.19" width="1.00" height="3.67" fill-opacity="0.72"/><rect x="175.00" y="189.38" width="1.00" height="12.82" fill-opacity="0.58"/><rect x="175.00" y="187.48" width="1.00" height="1.90" fill-opacity="0.29"/><rect x="176.00" y="218.57" width="1.00" height="69.43" fill-opacity="1.00"/><rect x="176.00" y="202.19" width="1.00" height="16.38" fill-opacity="0.73"/><rect x="176.00" y="192.58" width="1.00" height="9.61" fill-opacity="0.58"/><rect x="176.00" y="190.20" width="1.00" height="2.38" fill-opacity="0.29"/><rect x="177.00" y="218.57" width="1.00" height="69.43" fill-opacity="1.00"/><rect x="177.00" y="216.80" width="1.00" height="1.77" fill-opacity="0.98"/><rect x="177.00" y="192.74" width="1.00" height="24.06" fill-opacity="0.69"/><rect x="177.00" y="189.51" width="1.00" height="3.23" fill-opacity="0.41"/><rect x="177.00" y="188.73" width="1.00" height="0.78" fill-opacity="0.29"/><rect x="178.00" y="205.88" width="1.00" height="82.12" fill-opacity="1.00"/><rect x="178.00" y="192.33" width="1.00" height="13.55" fill-opacity="0.75"/><rect x="178.00" y="192.14" width="1.00" height="0.19" fill-opacity="0.46"/><rect x="178.00" y="189.51" width="1.00" height="2.63" fill-opacity="0.17"/><rect x="179.00" y="205.88" width="1.00" height="82.12" fill-opacity="1.00"/><rect x="179.00" y="203.89" width="1.00" height="1.99" fill-opacity="0.96"/><rect x="179.00" y="198.63" width="1.00" height="5.25" fill-opacity="0.67"/><rect x="179.00" y="191.00" width="1.00" height="7.63" fill-opacity="0.38"/><rect x="179.00" y="187.25" width="1.00" height="3.75" fill-opacity="0.09"/><rect x="180.00" y="195.37" width="1.00" height="92.63" fill-opacity="1.00"/><rect x="180.00" y="194.79" width="1.00" height="0.58" fill-opacity="0.71"/><rect x="180.00" y="187.25" width="1.00" height="7.55" fill-opacity="0.42"/><rect x="180.00" y="181.77" width="1.00" height="5.48" fill-opacity="0.22"/><rect x="181.00" y="196.70" width="1.00" height="91.30" fill-opacity="1.00"/><rect x="181.00" y="181.77" width="1.00" height="14.93" fill-opacity="0.71"/><rect x="181.00" y="172.79" width="1.00" height="8.98" fill-opacity="0.64"/><rect x="181.00" y="167.82" width="1.00" height="4.97" fill-opacity="0.35"/><rect x="181.00" y="167.58" width="1.00" height="0.24" fill-opacity="0.29"/><rect x="182.00" y="179.04" width="1.00" height="108.96" fill-opacity="1.00"/><rect x="182.00" y="168.40" width="1.00" height="10.65" fill-opacity="0.71"/><rect x="182.00" y="167.82" width="1.00" height="0.58" fill-opacity="0.42"/><rect x="182.00" y="159.49" width="1.00" height="8.33" fill-opacity="0.19"/><rect x="183.00" y="172.63" width="1.00" height="115.37" fill-opacity="1.00"/><rect x="183.00" y="171.65" width="1.00" height="0.99" fill-opacity="0.96"/><rect x="183.00" y="169.42" width="1.00" height="2.23" fill-opacity="0.67"/><rect x="183.00" y="161.44" width="1.00" height="7.98" fill-opacity="0.38"/><rect x="183.00" y="159.49" width="1.00" height="1.95" fill-opacity="0.09"/><rect x="184.00" y="202.00" width="1.00" height="86.00" fill-opacity="1.00"/><rect x="184.00" y="172.63" width="1.00" height="29.37" fill-opacity="0.71"/><rect x="184.00" y="163.96" width="1.00" height="8.67" fill-opacity="0.46"/><rect x="184.00" y="162.47" width="1.00" height="1.49" fill-opacity="0.29"/><rect x="185.00" y="172.77" width="1.00" height="115.23" fill-opacity="1.00"/><rect x="185.00" y="168.42" width="1.00" height="4.35" fill-opacity="0.71"/><rect x="185.00" y="165.36" width="1.00" height="3.05" fill-opacity="0.42"/><rect x="185.00" y="163.96" width="1.00" height="1.40" fill-opacity="0.41"/><rect x="185.00" y="160.21" width="1.00" height="3.74" fill-opacity="0.29"/><rect x="186.00" y="202.50" width="1.00" height="85.50" fill-opacity="1.00"/><rect x="186.00" y="173.79" width="1.00" height="28.71" fill-opacity="0.71"/><rect x="186.00" y="165.36" width="1.00" height="8.43" fill-opacity="0.42"/><rect x="186.00" y="161.40" width="1.00" height="3.96" fill-opacity="0.14"/><rect x="187.00" y="213.89" width="1.00" height="74.11" fill-opacity="1.00"/><rect x="187.00" y="178.78" width="1.00" height="35.11" fill-opacity="0.73"/><rect x="187.00" y="177.86" width="1.00" height="0.92" fill-opacity="0.44"/><rect x="187.00" y="161.40" width="1.00" height="16.46" fill-opacity="0.15"/><rect x="188.00" y="213.89" width="1.00" height="74.11" fill-opacity="1.00"/><rect x="188.00" y="205.93" width="1.00" height="7.96" fill-opacity="0.98"/><rect x="188.00" y="199.60" width="1.00" height="6.33" fill-opacity="0.69"/><rect x="188.00" y="171.82" width="1.00" height="27.77" fill-opacity="0.58"/><rect x="188.00" y="167.16" width="1.00" height="4.66" fill-opacity="0.29"/><rect x="189.00" y="199.60" width="1.00" height="88.40" fill-opacity="1.00"/><rect x="189.00" y="191.07" width="1.00" height="8.52" fill-opacity="0.83"/><rect x="189.00" y="186.79" width="1.00" height="4.28" fill-opacity="0.54"/><rect x="189.00" y="182.49" width="1.00" height="4.30" fill-opacity="0.25"/><rect x="190.00" y="189.42" width="1.00" height="98.58" fill-opacity="1.00"/><rect x="190.00" y="188.85" width="1.00" height="0.57" fill-opacity="0.71"/><rect x="190.00" y="182.55" width="1.00" height="6.30" fill-opacity="0.42"/><rect x="190.00" y="182.49" width="1.00" height="0.06" fill-opacity="0.33"/><rect x="190.00" y="175.95" width="1.00" height="6.54" fill-opacity="0.29"/><rect x="191.00" y="186.68" width="1.00" height="101.32" fill-opacity="1.00"/><rect x="191.00" y="185.34" width="1.00" height="1.34" fill-opacity="0.78"/><rect x="191.00" y="182.55" width="1.00" height="2.79" fill-opacity="0.49"/><rect x="191.00" y="179.22" width="1.00" height="3.33" fill-opacity="0.29"/><rect x="192.00" y="193.66" width="1.00" height="94.34" fill-opacity="1.00"/><rect x="192.00" y="186.68" width="1.00" height="6.98" fill-opacity="0.71"/><rect x="192.00" y="183.54" width="1.00" height="3.14" fill-opacity="0.64"/><rect x="192.00" y="180.24" width="1.00" height="3.31" fill-opacity="0.35"/><rect x="192.00" y="177.68" width="1.00" height="2.56" fill-opacity="0.29"/><rect x="193.00" y="224.94" width="1.00" height="63.06" fill-opacity="1.00"/><rect x="193.00" y="194.92" width="1.00" height="30.02" fill-opacity="0.81"/><rect x="193.00" y="180.24" width="1.00" height="14.68" fill-opacity="0.52"/><rect x="193.00" y="177.17" width="1.00" height="3.06" fill-opacity="0.29"/><rect x="194.00" y="224.94" width="1.00" height="63.06" fill-opacity="1.00"/><rect x="194.00" y="192.00" width="1.00" height="32.95" fill-opacity="0.90"/><rect x="194.00" y="191.28" width="1.00" height="0.71" fill-opacity="0.87"/><rect x="194.00" y="191.13" width="1.00" height="0.16" fill-opacity="0.58"/><rect x="194.00" y="189.15" width="1.00" height="1.97" fill-opacity="0.29"/><rect x="195.00" y="213.29" width="1.00" height="74.71" fill-opacity="1.00"/><rect x="195.00" y="208.13" width="1.00" height="5.15" fill-opacity="0.71"/><rect x="195.00" y="192.00" width="1.00" height="16.14" fill-opacity="0.54"/><rect x="195.00" y="190.93" width="1.00" height="1.06" fill-opacity="0.29"/><rect x="196.00" y="224.81" width="1.00" height="63.19" fill-opacity="1.00"/><rect x="196.00" y="208.13" width="1.00" height="16.67" fill-opacity="0.71"/><rect x="196.00" y="205.61" width="1.00" height="2.52" fill-opacity="0.59"/><rect x="196.00" y="191.38" width="1.00" height="14.23" fill-opacity="0.30"/><rect x="196.00" y="190.77" width="1.00" height="0.61" fill-opacity="0.29"/><rect x="197.00" y="191.38" width="1.00" height="96.62" fill-opacity="1.00"/><rect x="197.00" y="184.49" width="1.00" height="6.89" fill-opacity="0.72"/><rect x="197.00" y="180.74" width="1.00" height="3.75" fill-opacity="0.58"/><rect x="197.00" y="176.95" width="1.00" height="3.79" fill-opacity="0.29"/><rect x="198.00" y="189.35" width="1.00" height="98.65" fill-opacity="1.00"/><rect x="198.00" y="184.49" width="1.00" height="4.86" fill-opacity="0.73"/><rect x="198.00" y="178.55" width="1.00" height="5.94" fill-opacity="0.58"/><rect x="198.00" y="177.87" width="1.00" height="0.68" fill-opacity="0.29"/><rect x="199.00" y="212.17" width="1.00" height="75.83" fill-opacity="1.00"/><rect x="199.00" y="203.38" width="1.00" height="8.80" fill-opacity="0.71"/><rect x="199.00" y="195.06" width="1.00" height="8.32" fill-opacity="0.60"/><rect x="199.00" y="189.35" width="1.00" height="5.71" fill-opacity="0.31"/><rect x="199.00" y="184.17" width="1.00" height="5.19" fill-opacity="0.29"/><rect x="200.00" y="218.93" width="1.00" height="69.07" fill-opacity="1.00"/><rect x="200.00" y="203.38" width="1.00" height="15.56" fill-opacity="0.71"/><rect x="200.00" y="184.90" width="1.00" height="18.47" fill-opacity="0.53"/><rect x="200.00" y="177.65" width="1.00" height="7.25" fill-opacity="0.29"/><rect x="201.00" y="207.84" width="1.00" height="80.16" fill-opacity="1.00"/><rect x="201.00" y="187.84" width="1.00" height="20.00" fill-opacity="0.91"/><rect x="201.00" y="185.92" width="1.00" height="1.92" fill-opacity="0.62"/><rect x="201.00" y="184.90" width="1.00" height="1.01" fill-opacity="0.33"/><rect x="201.00" y="180.31" width="1.00" height="4.59" fill-opacity="0.29"/><rect x="202.00" y="216.02" width="1.00" height="71.98" fill-opacity="1.00"/><rect x="202.00" y="207.84" width="1.00" height="8.18" fill-opacity="0.71"/><rect x="202.00" y="190.18" width="1.00" height="17.66" fill-opacity="0.51"/><rect x="202.00" y="182.17" width="1.00" height="8.01" fill-opacity="0.22"/><rect x="203.00" y="208.85" width="1.00" height="79.15" fill-opacity="1.00"/><rect x="203.00" y="198.72" width="1.00" height="10.13" fill-opacity="0.71"/><rect x="203.00" y="182.17" width="1.00" height="16.54" fill-opacity="0.42"/><rect x="203.00" y="181.46" width="1.00" height="0.72" fill-opacity="0.35"/><rect x="203.00" y="181.39" width="1.00" height="0.06" fill-opacity="0.06"/><rect x="204.00" y="191.48" width="1.00" height="96.52" fill-opacity="1.00"/><rect x="204.00" y="187.81" width="1.00" height="3.67" fill-opacity="0.71"/><rect x="204.00" y="183.35" width="1.00" height="4.47" fill-opacity="0.52"/><rect x="204.00" y="181.39" width="1.00" height="1.95" fill-opacity="0.23"/><rect x="205.00" y="233.77" width="1.00" height="54.23" fill-opacity="1.00"/><rect x="205.00" y="198.64" width="1.00" height="35.13" fill-opacity="0.71"/><rect x="205.00" y="189.70" width="1.00" height="8.94" fill-opacity="0.42"/><rect x="205.00" y="187.81" width="1.00" height="1.89" fill-opacity="0.39"/><rect x="205.00" y="185.28" width="1.00" height="2.54" fill-opacity="0.29"/><rect x="206.00" y="227.70" width="1.00" height="60.30" fill-opacity="1.00"/><rect x="206.00" y="221.50" width="1.00" height="6.20" fill-opacity="0.83"/><rect x="206.00" y="198.85" width="1.00" height="22.65" fill-opacity="0.54"/><rect x="206.00" y="189.70" width="1.00" height="9.15" fill-opacity="0.25"/><rect x="207.00" y="227.70" width="1.00" height="60.30" fill-opacity="1.00"/><rect x="207.00" y="191.91" width="1.00" height="35.79" fill-opacity="0.88"/><rect x="207.00" y="187.59" width="1.00" height="4.32" fill-opacity="0.59"/><rect x="207.00" y="186.64" width="1.00" height="0.95" fill-opacity="0.30"/><rect x="207.00" y="175.75" width="1.00" height="10.89" fill-opacity="0.01"/><rect x="208.00" y="200.29" width="1.00" height="87.71" fill-opacity="1.00"/><rect x="208.00" y="180.64" width="1.00" height="19.65" fill-opacity="0.86"/><rect x="208.00" y="175.75" width="1.00" height="4.88" fill-opacity="0.57"/><rect x="208.00" y="171.91" width="1.00" height="3.84" fill-opacity="0.29"/><rect x="209.00" y="200.29" width="1.00" height="87.71" fill-opacity="1.00"/><rect x="209.00" y="178.34" width="1.00" height="21.95" fill-opacity="0.85"/><rect x="209.00" y="170.39" width="1.00" height="7.95" fill-opacity="0.58"/><rect x="209.00" y="157.40" width="1.00" height="12.98" fill-opacity="0.29"/><rect x="210.00" y="220.16" width="1.00" height="67.84" fill-opacity="1.00"/><rect x="210.00" y="178.34" width="1.00" height="41.82" fill-opacity="0.89"/><rect x="210.00" y="174.17" width="1.00" height="4.17" fill-opacity="0.87"/><rect x="210.00" y="169.57" width="1.00" height="4.60" fill-opacity="0.58"/><rect x="210.00" y="157.97" width="1.00" height="11.59" fill-opacity="0.29"/><rect x="211.00" y="220.16" width="1.00" height="67.84" fill-opacity="1.00"/><rect x="211.00" y="179.53" width="1.00" height="40.63" fill-opacity="0.82"/><rect x="211.00" y="172.20" width="1.00" height="7.33" fill-opacity="0.53"/><rect x="211.00" y="159.90" width="1.00" height="12.30" fill-opacity="0.24"/><rect x="212.00" y="187.09" width="1.00" height="100.91" fill-opacity="1.00"/><rect x="212.00" y="172.09" width="1.00" height="15.00" fill-opacity="0.71"/><rect x="212.00" y="161.79" width="1.00" height="10.30" fill-opacity="0.62"/><rect x="212.00" y="159.90" width="1.00" height="1.89" fill-opacity="0.33"/><rect x="212.00" y="157.47" width="1.00" height="2.43" fill-opacity="0.29"/><rect x="213.00" y="173.30" width="1.00" height="114.70" fill-opacity="1.00"/><rect x="213.00" y="172.09" width="1.00" height="1.21" fill-opacity="0.71"/><rect x="213.00" y="169.38" width="1.00" height="2.70" fill-opacity="0.51"/><rect x="213.00" y="165.81" width="1.00" height="3.58" fill-opacity="0.22"/><rect x="214.00" y="194.45" width="1.00" height="93.55" fill-opacity="1.00"/><rect x="214.00" y="180.22" width="1.00" height="14.23" fill-opacity="0.71"/><rect x="214.00" y="165.81" width="1.00" height="14.41" fill-opacity="0.42"/><rect x="214.00" y="157.86" width="1.00" height="7.94" fill-opacity="0.35"/><rect x="214.00" y="154.95" width="1.00" height="2.91" fill-opacity="0.29"/><rect x="215.00" y="211.49" width="1.00" height="76.51" fill-opacity="1.00"/><rect x="215.00" y="192.88" width="1.00" height="18.61" fill-opacity="0.71"/><rect x="215.00" y="172.03" width="1.00" height="20.84" fill-opacity="0.42"/><rect x="215.00" y="157.86" width="1.00" height="14.17" fill-opacity="0.23"/><rect x="216.00" y="194.01" width="1.00" height="93.99" fill-opacity="1.00"/><rect x="216.00" y="177.13" width="1.00" height="16.88" fill-opacity="0.71"/><rect x="216.00" y="172.57" width="1.00" height="4.57" fill-opacity="0.42"/><rect x="216.00" y="172.03" width="1.00" height="0.53" fill-opacity="0.13"/><rect x="216.00" y="170.31" width="1.00" height="1.72" fill-opacity="0.03"/><rect x="217.00" y="182.92" width="1.00" height="105.08" fill-opacity="1.00"/><rect x="217.00" y="172.79" width="1.00" height="10.13" fill-opacity="0.71"/><rect x="217.00" y="170.31" width="1.00" height="2.48" fill-opacity="0.42"/><rect x="217.00" y="162.75" width="1.00" height="7.57" fill-opacity="0.16"/><rect x="218.00" y="194.20" width="1.00" height="93.80" fill-opacity="1.00"/><rect x="218.00" y="179.81" width="1.00" height="14.39" fill-opacity="0.71"/><rect x="218.00" y="176.43" width="1.00" height="3.38" fill-opacity="0.70"/><rect x="218.00" y="162.75" width="1.00" height="13.69" fill-opacity="0.41"/><rect x="218.00" y="159.08" width="1.00" height="3.66" fill-opacity="0.29"/><rect x="219.00" y="179.81" width="1.00" height="108.19" fill-opacity="1.00"/><rect x="219.00" y="175.41" width="1.00" height="4.40" fill-opacity="0.72"/><rect x="219.00" y="174.20" width="1.00" height="1.21" fill-opacity="0.43"/><rect x="219.00" y="161.40" width="1.00" height="12.80" fill-opacity="0.14"/><rect x="220.00" y="213.23" width="1.00" height="74.77" fill-opacity="1.00"/><rect x="220.00" y="179.82" width="1.00" height="33.41" fill-opacity="0.71"/><rect x="220.00" y="161.40" width="1.00" height="18.42" fill-opacity="0.42"/><rect x="220.00" y="158.72" width="1.00" height="2.68" fill-opacity="0.27"/><rect x="221.00" y="178.04" width="1.00" height="109.96" fill-opacity="1.00"/><rect x="221.00" y="177.45" width="1.00" height="0.59" fill-opacity="0.71"/><rect x="221.00" y="177.33" width="1.00" height="0.12" fill-opacity="0.42"/><rect x="221.00" y="159.00" width="1.00" height="18.33" fill-opacity="0.13"/><rect x="221.00" y="158.72" width="1.00" height="0.28" fill-opacity="0.02"/><rect x="222.00" y="181.07" width="1.00" height="106.93" fill-opacity="1.00"/><rect x="222.00" y="177.61" width="1.00" height="3.46" fill-opacity="0.71"/><rect x="222.00" y="163.00" width="1.00" height="14.61" fill-opacity="0.42"/><rect x="222.00" y="159.00" width="1.00" height="4.00" fill-opacity="0.18"/><rect x="223.00" y="205.15" width="1.00" height="82.85" fill-opacity="1.00"/><rect x="223.00" y="191.45" width="1.00" height="13.70" fill-opacity="0.71"/><rect x="223.00" y="173.16" width="1.00" height="18.28" fill-opacity="0.42"/><rect x="223.00" y="166.69" width="1.00" height="6.48" fill-opacity="0.34"/><rect x="223.00" y="163.00" width="1.00" height="3.69" fill-opacity="0.05"/><rect x="224.00" y="177.48" width="1.00" height="110.52" fill-opacity="1.00"/><rect x="224.00" y="173.61" width="1.00" height="3.88" fill-opacity="0.78"/><rect x="224.00" y="173.54" width="1.00" height="0.06" fill-opacity="0.49"/><rect x="224.00" y="173.16" width="1.00" height="0.38" fill-opacity="0.20"/><rect x="225.00" y="177.48" width="1.00" height="110.52" fill-opacity="1.00"/><rect x="225.00" y="174.03" width="1.00" height="3.45" fill-opacity="0.93"/><rect x="225.00" y="171.56" width="1.00" height="2.47" fill-opacity="0.64"/><rect x="225.00" y="171.03" width="1.00" height="0.53" fill-opacity="0.35"/><rect x="225.00" y="161.73" width="1.00" height="9.30" fill-opacity="0.29"/><rect x="226.00" y="176.44" width="1.00" height="111.56" fill-opacity="1.00"/><rect x="226.00" y="173.33" width="1.00" height="3.11" fill-opacity="0.71"/><rect x="226.00" y="171.03" width="1.00" height="2.30" fill-opacity="0.52"/><rect x="226.00" y="170.37" width="1.00" height="0.66" fill-opacity="0.29"/><rect x="227.00" y="184.84" width="1.00" height="103.16" fill-opacity="1.00"/><rect x="227.00" y="173.97" width="1.00" height="10.87" fill-opacity="0.97"/><rect x="227.00" y="173.33" width="1.00" height="0.64" fill-opacity="0.68"/><rect x="227.00" y="166.18" width="1.00" height="7.15" fill-opacity="0.58"/><rect x="227.00" y="164.39" width="1.00" height="1.80" fill-opacity="0.29"/><rect x="228.00" y="184.84" width="1.00" height="103.16" fill-opacity="1.00"/><rect x="228.00" y="183.60" width="1.00" height="1.24" fill-opacity="0.74"/><rect x="228.00" y="183.47" width="1.00" height="0.13" fill-opacity="0.58"/><rect x="228.00" y="177.07" width="1.00" height="6.40" fill-opacity="0.29"/><rect x="229.00" y="187.32" width="1.00" height="100.68" fill-opacity="1.00"/><rect x="229.00" y="183.60" width="1.00" height="3.72" fill-opacity="0.71"/><rect x="229.00" y="174.87" width="1.00" height="8.73" fill-opacity="0.59"/><rect x="229.00" y="169.54" width="1.00" height="5.33" fill-opacity="0.30"/><rect x="230.00" y="190.35" width="1.00" height="97.65" fill-opacity="1.00"/><rect x="230.00" y="183.09" width="1.00" height="7.26" fill-opacity="0.71"/><rect x="230.00" y="177.66" width="1.00" height="5.42" fill-opacity="0.42"/><rect x="230.00" y="169.54" width="1.00" height="8.12" fill-opacity="0.28"/><rect x="231.00" y="190.93" width="1.00" height="97.07" fill-opacity="1.00"/><rect x="231.00" y="190.71" width="1.00" height="0.22" fill-opacity="0.71"/><rect x="231.00" y="187.38" width="1.00" height="3.33" fill-opacity="0.42"/><rect x="231.00" y="177.66" width="1.00" height="9.72" fill-opacity="0.15"/><rect x="232.00" y="194.11" width="1.00" height="93.89" fill-opacity="1.00"/><rect x="232.00" y="191.85" width="1.00" height="2.26" fill-opacity="0.71"/><rect x="232.00" y="187.38" width="1.00" height="4.48" fill-opacity="0.42"/><rect x="232.00" y="184.31" width="1.00" height="3.06" fill-opacity="0.40"/><rect x="232.00" y="183.22" width="1.00" height="1.10" fill-opacity="0.29"/><rect x="233.00" y="194.80" width="1.00" height="93.20" fill-opacity="1.00"/><rect x="233.00" y="194.14" width="1.00" height="0.66" fill-opacity="0.71"/><rect x="233.00" y="184.50" width="1.00" height="9.64" fill-opacity="0.42"/><rect x="233.00" y="184.31" width="1.00" height="0.19" fill-opacity="0.18"/><rect x="234.00" y="225.53" width="1.00" height="62.47" fill-opacity="1.00"/><rect x="234.00" y="188.54" width="1.00" height="36.99" fill-opacity="0.71"/><rect x="234.00" y="187.40" width="1.00" height="1.14" fill-opacity="0.42"/><rect x="234.00" y="184.86" width="1.00" height="2.54" fill-opacity="0.13"/><rect x="234.00" y="184.50" width="1.00" height="0.36" fill-opacity="0.05"/><rect x="235.00" y="193.59" width="1.00" height="94.41" fill-opacity="1.00"/><rect x="235.00" y="193.33" width="1.00" height="0.26" fill-opacity="0.71"/><rect x="235.00" y="184.86" width="1.00" height="8.47" fill-opacity="0.42"/><rect x="235.00" y="180.57" width="1.00" height="4.29" fill-opacity="0.22"/><rect x="236.00" y="184.69" width="1.00" height="103.31" fill-opacity="1.00"/><rect x="236.00" y="180.57" width="1.00" height="4.12" fill-opacity="0.71"/><rect x="236.00" y="180.16" width="1.00" height="0.41" fill-opacity="0.64"/><rect x="236.00" y="178.45" width="1.00" height="1.71" fill-opacity="0.35"/><rect x="236.00" y="177.13" width="1.00" height="1.32" fill-opacity="0.29"/><rect x="237.00" y="210.73" width="1.00" height="77.27" fill-opacity="1.00"/><rect x="237.00" y="207.25" width="1.00" height="3.47" fill-opacity="0.71"/><rect x="237.00" y="178.45" width="1.00" height="28.80" fill-opacity="0.42"/><rect x="237.00" y="175.67" width="1.00" height="2.78" fill-opacity="0.19"/><rect x="238.00" y="227.18" width="1.00" height="60.82" fill-opacity="1.00"/><rect x="238.00" y="189.20" width="1.00" height="37.98" fill-opacity="0.97"/><rect x="238.00" y="189.13" width="1.00" height="0.07" fill-opacity="0.68"/><rect x="238.00" y="186.03" width="1.00" height="3.10" fill-opacity="0.39"/><rect x="238.00" y="175.67" width="1.00" height="10.36" fill-opacity="0.10"/><rect x="239.00" y="227.18" width="1.00" height="60.82" fill-opacity="1.00"/><rect x="239.00" y="198.89" width="1.00" height="28.29" fill-opacity="0.74"/><rect x="239.00" y="195.58" width="1.00" height="3.32" fill-opacity="0.45"/><rect x="239.00" y="186.33" width="1.00" height="9.25" fill-opacity="0.16"/><rect x="240.00" y="194.78" width="1.00" height="93.22" fill-opacity="1.00"/><rect x="240.00" y="189.55" width="1.00" height="5.24" fill-opacity="0.71"/><rect x="240.00" y="188.07" width="1.00" height="1.48" fill-opacity="0.42"/><rect x="240.00" y="186.33" width="1.00" height="1.74" fill-opacity="0.42"/><rect x="240.00" y="183.70" width="1.00" height="2.63" fill-opacity="0.29"/><rect x="241.00" y="193.12" width="1.00" height="94.88" fill-opacity="1.00"/><rect x="241.00" y="188.59" width="1.00" height="4.53" fill-opacity="0.71"/><rect x="241.00" y="188.07" width="1.00" height="0.53" fill-opacity="0.57"/><rect x="241.00" y="188.03" width="1.00" height="0.03" fill-opacity="0.29"/><rect x="242.00" y="194.97" width="1.00" height="93.03" fill-opacity="1.00"/><rect x="242.00" y="194.42" width="1.00" height="0.56" fill-opacity="0.73"/><rect x="242.00" y="188.59" width="1.00" height="5.83" fill-opacity="0.44"/><rect x="242.00" y="188.32" width="1.00" height="0.27" fill-opacity="0.29"/><rect x="243.00" y="194.97" width="1.00" height="93.03" fill-opacity="1.00"/><rect x="243.00" y="194.82" width="1.00" height="0.15" fill-opacity="0.98"/><rect x="243.00" y="193.00" width="1.00" height="1.82" fill-opacity="0.87"/><rect x="243.00" y="189.57" width="1.00" height="3.43" fill-opacity="0.58"/><rect x="243.00" y="184.28" width="1.00" height="5.29" fill-opacity="0.29"/><rect x="244.00" y="228.49" width="1.00" height="59.51" fill-opacity="1.00"/><rect x="244.00" y="194.82" width="1.00" height="33.66" fill-opacity="0.71"/><rect x="244.00" y="179.51" width="1.00" height="15.31" fill-opacity="0.53"/><rect x="244.00" y="178.34" width="1.00" height="1.17" fill-opacity="0.24"/><rect x="245.00" y="198.18" width="1.00" height="89.82" fill-opacity="1.00"/><rect x="245.00" y="197.73" width="1.00" height="0.45" fill-opacity="0.92"/><rect x="245.00" y="190.91" width="1.00" height="6.83" fill-opacity="0.63"/><rect x="245.00" y="179.62" width="1.00" height="11.29" fill-opacity="0.34"/><rect x="245.00" y="178.34" width="1.00" height="1.27" fill-opacity="0.05"/><rect x="246.00" y="198.18" width="1.00" height="89.82" fill-opacity="1.00"/><rect x="246.00" y="196.61" width="1.00" height="1.57" fill-opacity="0.79"/><rect x="246.00" y="190.84" width="1.00" height="5.78" fill-opacity="0.50"/><rect x="246.00" y="182.04" width="1.00" height="8.80" fill-opacity="0.29"/><rect x="247.00" y="212.31" width="1.00" height="75.69" fill-opacity="1.00"/><rect x="247.00" y="199.22" width="1.00" height="13.09" fill-opacity="0.71"/><rect x="247.00" y="192.20" width="1.00" height="7.02" fill-opacity="0.42"/><rect x="247.00" y="190.84" width="1.00" height="1.36" fill-opacity="0.36"/><rect x="247.00" y="189.18" width="1.00" height="1.66" fill-opacity="0.29"/><rect x="248.00" y="218.82" width="1.00" height="69.18" fill-opacity="1.00"/><rect x="248.00" y="198.73" width="1.00" height="20.09" fill-opacity="0.71"/><rect x="248.00" y="195.58" width="1.00" height="3.15" fill-opacity="0.42"/><rect x="248.00" y="192.20" width="1.00" height="3.38" fill-opacity="0.23"/><rect x="249.00" y="205.23" width="1.00" height="82.77" fill-opacity="1.00"/><rect x="249.00" y="197.33" width="1.00" height="7.90" fill-opacity="0.71"/><rect x="249.00" y="195.63" width="1.00" height="1.71" fill-opacity="0.68"/><rect x="249.00" y="195.58" width="1.00" height="0.05" fill-opacity="0.39"/><rect x="249.00" y="192.25" width="1.00" height="3.33" fill-opacity="0.29"/><rect x="250.00" y="205.41" width="1.00" height="82.59" fill-opacity="1.00"/><rect x="250.00" y="197.33" width="1.00" height="8.07" fill-opacity="0.71"/><rect x="250.00" y="192.27" width="1.00" height="5.07" fill-opacity="0.45"/><rect x="250.00" y="191.65" width="1.00" height="0.62" fill-opacity="0.16"/><rect x="251.00" y="207.58" width="1.00" height="80.42" fill-opacity="1.00"/><rect x="251.00" y="191.65" width="1.00" height="15.93" fill-opacity="0.71"/><rect x="251.00" y="180.10" width="1.00" height="11.55" fill-opacity="0.58"/><rect x="251.00" y="163.64" width="1.00" height="16.46" fill-opacity="0.29"/><rect x="251.00" y="154.66" width="1.00" height="8.98" fill-opacity="0.00"/><rect x="252.00" y="177.44" width="1.00" height="110.56" fill-opacity="1.00"/><rect x="252.00" y="156.34" width="1.00" height="21.09" fill-opacity="0.71"/><rect x="252.00" y="155.41" width="1.00" height="0.93" fill-opacity="0.42"/><rect x="252.00" y="154.66" width="1.00" height="0.76" fill-opacity="0.29"/><rect x="253.00" y="174.76" width="1.00" height="113.24" fill-opacity="1.00"/><rect x="253.00" y="165.02" width="1.00" height="9.74" fill-opacity="0.73"/><rect x="253.00" y="164.83" width="1.00" height="0.19" fill-opacity="0.44"/><rect x="253.00" y="155.41" width="1.00" height="9.42" fill-opacity="0.15"/><rect x="254.00" y="174.76" width="1.00" height="113.24" fill-opacity="1.00"/><rect x="254.00" y="164.71" width="1.00" height="10.05" fill-opacity="0.98"/><rect x="254.00" y="164.35" width="1.00" height="0.36" fill-opacity="0.69"/><rect x="254.00" y="161.05" width="1.00" height="3.29" fill-opacity="0.40"/><rect x="254.00" y="159.81" width="1.00" height="1.25" fill-opacity="0.11"/><rect x="255.00" y="179.49" width="1.00" height="108.51" fill-opacity="1.00"/><rect x="255.00" y="173.95" width="1.00" height="5.54" fill-opacity="0.71"/><rect x="255.00" y="173.77" width="1.00" height="0.18" fill-opacity="0.47"/><rect x="255.00" y="159.81" width="1.00" height="13.96" fill-opacity="0.18"/><rect x="256.00" y="220.09" width="1.00" height="67.91" fill-opacity="1.00"/><rect x="256.00" y="192.16" width="1.00" height="27.93" fill-opacity="0.71"/><rect x="256.00" y="190.27" width="1.00" height="1.89" fill-opacity="0.42"/><rect x="256.00" y="189.89" width="1.00" height="0.37" fill-opacity="0.13"/><rect x="256.00" y="173.95" width="1.00" height="15.94" fill-opacity="0.05"/><rect x="257.00" y="230.52" width="1.00" height="57.48" fill-opacity="1.00"/><rect x="257.00" y="192.90" width="1.00" height="37.62" fill-opacity="0.79"/><rect x="257.00" y="189.97" width="1.00" height="2.94" fill-opacity="0.50"/><rect x="257.00" y="189.89" width="1.00" height="0.07" fill-opacity="0.21"/><rect x="258.00" y="230.52" width="1.00" height="57.48" fill-opacity="1.00"/><rect x="258.00" y="211.27" width="1.00" height="19.25" fill-opacity="0.92"/><rect x="258.00" y="197.00" width="1.00" height="14.27" fill-opacity="0.63"/><rect x="258.00" y="188.53" width="1.00" height="8.47" fill-opacity="0.35"/><rect x="258.00" y="187.33" width="1.00" height="1.20" fill-opacity="0.29"/><rect x="259.00" y="190.95" width="1.00" height="97.05" fill-opacity="1.00"/><rect x="259.00" y="189.92" width="1.00" height="1.03" fill-opacity="0.71"/><rect x="259.00" y="189.77" width="1.00" height="0.15" fill-opacity="0.42"/><rect x="259.00" y="188.53" width="1.00" height="1.24" fill-opacity="0.23"/><rect x="260.00" y="220.59" width="1.00" height="67.41" fill-opacity="1.00"/><rect x="260.00" y="200.04" width="1.00" height="20.56" fill-opacity="0.71"/><rect x="260.00" y="191.22" width="1.00" height="8.81" fill-opacity="0.42"/><rect x="260.00" y="189.77" width="1.00" height="1.45" fill-opacity="0.39"/><rect x="260.00" y="189.58" width="1.00" height="0.19" fill-opacity="0.29"/><rect x="261.00" y="221.70" width="1.00" height="66.30" fill-opacity="1.00"/><rect x="261.00" y="198.55" width="1.00" height="23.14" fill-opacity="0.71"/><rect x="261.00" y="191.22" width="1.00" height="7.33" fill-opacity="0.55"/><rect x="261.00" y="182.76" width="1.00" height="8.46" fill-opacity="0.29"/><rect x="262.00" y="200.12" width="1.00" height="87.88" fill-opacity="1.00"/><rect x="262.00" y="198.55" width="1.00" height="1.57" fill-opacity="0.71"/><rect x="262.00" y="190.23" width="1.00" height="8.33" fill-opacity="0.58"/><rect x="262.00" y="187.86" width="1.00" height="2.37" fill-opacity="0.58"/><rect x="262.00" y="178.31" width="1.00" height="9.55" fill-opacity="0.29"/><rect x="263.00" y="226.48" width="1.00" height="61.52" fill-opacity="1.00"/><rect x="263.00" y="225.66" width="1.00" height="0.83" fill-opacity="0.71"/><rect x="263.00" y="190.23" width="1.00" height="35.43" fill-opacity="0.58"/><rect x="263.00" y="182.46" width="1.00" height="7.77" fill-opacity="0.29"/><rect x="264.00" y="225.66" width="1.00" height="62.34" fill-opacity="1.00"/><rect x="264.00" y="192.17" width="1.00" height="33.48" fill-opacity="0.84"/><rect x="264.00" y="190.22" width="1.00" height="1.95" fill-opacity="0.58"/><rect x="264.00" y="189.29" width="1.00" height="0.93" fill-opacity="0.29"/><rect x="265.00" y="194.36" width="1.00" height="93.64" fill-opacity="1.00"/><rect x="265.00" y="192.17" width="1.00" height="2.19" fill-opacity="0.89"/><rect x="265.00" y="188.15" width="1.00" height="4.02" fill-opacity="0.87"/><rect x="265.00" y="187.79" width="1.00" height="0.36" fill-opacity="0.58"/><rect x="265.00" y="184.06" width="1.00" height="3.73" fill-opacity="0.29"/><rect x="266.00" y="194.36" width="1.00" height="93.64" fill-opacity="1.00"/><rect x="266.00" y="186.65" width="1.00" height="7.71" fill-opacity="0.82"/><rect x="266.00" y="186.61" width="1.00" height="0.03" fill-opacity="0.58"/><rect x="266.00" y="186.18" width="1.00" height="0.43" fill-opacity="0.29"/><rect x="267.00" y="224.19" width="1.00" height="63.81" fill-opacity="1.00"/><rect x="267.00" y="189.66" width="1.00" height="34.53" fill-opacity="0.71"/><rect x="267.00" y="186.65" width="1.00" height="3.01" fill-opacity="0.42"/><rect x="267.00" y="184.76" width="1.00" height="1.89" fill-opacity="0.37"/><rect x="267.00" y="180.11" width="1.00" height="4.65" fill-opacity="0.08"/><rect x="268.00" y="193.58" width="1.00" height="94.42" fill-opacity="1.00"/><rect x="268.00" y="192.12" width="1.00" height="1.46" fill-opacity="0.71"/><rect x="268.00" y="180.11" width="1.00" height="12.01" fill-opacity="0.50"/><rect x="268.00" y="165.28" width="1.00" height="14.83" fill-opacity="0.29"/><rect x="269.00" y="198.19" width="1.00" height="89.81" fill-opacity="1.00"/><rect x="269.00" y="192.12" width="1.00" height="6.07" fill-opacity="0.94"/><rect x="269.00" y="173.93" width="1.00" height="18.19" fill-opacity="0.87"/><rect x="269.00" y="168.85" width="1.00" height="5.09" fill-opacity="0.58"/><rect x="269.00" y="164.22" width="1.00" height="4.63" fill-opacity="0.29"/><rect x="270.00" y="198.19" width="1.00" height="89.81" fill-opacity="1.00"/><rect x="270.00" y="180.87" width="1.00" height="17.32" fill-opacity="0.77"/><rect x="270.00" y="172.31" width="1.00" height="8.56" fill-opacity="0.48"/><rect x="270.00" y="167.57" width="1.00" height="4.74" fill-opacity="0.19"/><rect x="271.00" y="206.89" width="1.00" height="81.11" fill-opacity="1.00"/><rect x="271.00" y="185.92" width="1.00" height="20.97" fill-opacity="0.71"/><rect x="271.00" y="167.57" width="1.00" height="18.35" fill-opacity="0.42"/><rect x="271.00" y="165.98" width="1.00" height="1.59" fill-opacity="0.32"/><rect x="271.00" y="165.43" width="1.00" height="0.55" fill-opacity="0.03"/><rect x="272.00" y="185.96" width="1.00" height="102.04" fill-opacity="1.00"/><rect x="272.00" y="178.64" width="1.00" height="7.31" fill-opacity="0.71"/><rect x="272.00" y="165.43" width="1.00" height="13.22" fill-opacity="0.55"/><rect x="272.00" y="161.84" width="1.00" height="3.59" fill-opacity="0.29"/><rect x="273.00" y="197.32" width="1.00" height="90.68" fill-opacity="1.00"/><rect x="273.00" y="194.18" width="1.00" height="3.14" fill-opacity="0.71"/><rect x="273.00" y="184.94" width="1.00" height="9.25" fill-opacity="0.71"/><rect x="273.00" y="183.02" width="1.00" height="1.91" fill-opacity="0.42"/><rect x="273.00" y="178.64" width="1.00" height="4.38" fill-opacity="0.13"/><rect x="274.00" y="229.30" width="1.00" height="58.70" fill-opacity="1.00"/><rect x="274.00" y="194.18" width="1.00" height="35.12" fill-opacity="0.71"/><rect x="274.00" y="190.84" width="1.00" height="3.34" fill-opacity="0.42"/><rect x="274.00" y="186.15" width="1.00" height="4.70" fill-opacity="0.29"/><rect x="275.00" y="192.96" width="1.00" height="95.04" fill-opacity="1.00"/><rect x="275.00" y="191.04" width="1.00" height="1.92" fill-opacity="0.71"/><rect x="275.00" y="190.87" width="1.00" height="0.17" fill-opacity="0.45"/><rect x="275.00" y="190.84" width="1.00" height="0.03" fill-opacity="0.16"/><rect x="276.00" y="191.04" width="1.00" height="96.96" fill-opacity="1.00"/><rect x="276.00" y="189.57" width="1.00" height="1.47" fill-opacity="0.98"/><rect x="276.00" y="186.32" width="1.00" height="3.25" fill-opacity="0.69"/><rect x="276.00" y="185.36" width="1.00" height="0.96" fill-opacity="0.58"/><rect x="276.00" y="183.86" width="1.00" height="1.50" fill-opacity="0.29"/><rect x="277.00" y="190.89" width="1.00" height="97.11" fill-opacity="1.00"/><rect x="277.00" y="190.09" width="1.00" height="0.80" fill-opacity="0.76"/><rect x="277.00" y="188.20" width="1.00" height="1.89" fill-opacity="0.47"/><rect x="277.00" y="186.32" width="1.00" height="1.88" fill-opacity="0.18"/><rect x="278.00" y="203.98" width="1.00" height="84.02" fill-opacity="1.00"/><rect x="278.00" y="193.47" width="1.00" height="10.51" fill-opacity="0.92"/><rect x="278.00" y="190.89" width="1.00" height="2.58" fill-opacity="0.63"/><rect x="278.00" y="184.85" width="1.00" height="6.04" fill-opacity="0.58"/><rect x="278.00" y="184.11" width="1.00" height="0.74" fill-opacity="0.29"/><rect x="279.00" y="217.23" width="1.00" height="70.77" fill-opacity="1.00"/><rect x="279.00" y="203.98" width="1.00" height="13.24" fill-opacity="0.71"/><rect x="279.00" y="195.24" width="1.00" height="8.74" fill-opacity="0.50"/><rect x="279.00" y="185.42" width="1.00" height="9.82" fill-opacity="0.29"/><rect x="280.00" y="207.68" width="1.00" height="80.32" fill-opacity="1.00"/><rect x="280.00" y="195.24" width="1.00" height="12.44" fill-opacity="0.71"/><rect x="280.00" y="194.22" width="1.00" height="1.02" fill-opacity="0.63"/><rect x="280.00" y="185.75" width="1.00" height="8.47" fill-opacity="0.34"/><rect x="280.00" y="184.84" width="1.00" height="0.91" fill-opacity="0.05"/><rect x="281.00" y="184.84" width="1.00" height="103.16" fill-opacity="1.00"/><rect x="281.00" y="182.31" width="1.00" height="2.53" fill-opacity="0.76"/><rect x="281.00" y="181.95" width="1.00" height="0.36" fill-opacity="0.58"/><rect x="281.00" y="179.55" width="1.00" height="2.40" fill-opacity="0.29"/><rect x="282.00" y="218.44" width="1.00" height="69.56" fill-opacity="1.00"/><rect x="282.00" y="215.26" width="1.00" height="3.19" fill-opacity="0.71"/><rect x="282.00" y="191.28" width="1.00" height="23.98" fill-opacity="0.42"/><rect x="282.00" y="183.89" width="1.00" height="7.39" fill-opacity="0.39"/><rect x="282.00" y="182.31" width="1.00" height="1.58" fill-opacity="0.10"/><rect x="283.00" y="231.23" width="1.00" height="56.77" fill-opacity="1.00"/><rect x="283.00" y="210.23" width="1.00" height="21.00" fill-opacity="0.84"/><rect x="283.00" y="191.42" width="1.00" height="18.81" fill-opacity="0.55"/><rect x="283.00" y="191.28" width="1.00" height="0.14" fill-opacity="0.26"/><rect x="284.00" y="231.23" width="1.00" height="56.77" fill-opacity="1.00"/><rect x="284.00" y="225.45" width="1.00" height="5.78" fill-opacity="0.87"/><rect x="284.00" y="191.99" width="1.00" height="33.46" fill-opacity="0.87"/><rect x="284.00" y="189.33" width="1.00" height="2.66" fill-opacity="0.58"/><rect x="284.00" y="183.19" width="1.00" height="6.14" fill-opacity="0.29"/><rect x="285.00" y="225.45" width="1.00" height="62.55" fill-opacity="1.00"/><rect x="285.00" y="221.54" width="1.00" height="3.91" fill-opacity="0.71"/><rect x="285.00" y="199.53" width="1.00" height="22.01" fill-opacity="0.58"/><rect x="285.00" y="190.51" width="1.00" height="9.01" fill-opacity="0.29"/><rect x="286.00" y="221.54" width="1.00" height="66.46" fill-opacity="1.00"/><rect x="286.00" y="191.43" width="1.00" height="30.11" fill-opacity="0.84"/><rect x="286.00" y="187.84" width="1.00" height="3.59" fill-opacity="0.55"/><rect x="286.00" y="186.94" width="1.00" height="0.90" fill-opacity="0.29"/><rect x="287.00" y="197.14" width="1.00" height="90.86" fill-opacity="1.00"/><rect x="287.00" y="196.61" width="1.00" height="0.53" fill-opacity="0.71"/><rect x="287.00" y="194.54" width="1.00" height="2.07" fill-opacity="0.42"/><rect x="287.00" y="190.17" width="1.00" height="4.37" fill-opacity="0.31"/><rect x="287.00" y="187.84" width="1.00" height="2.33" fill-opacity="0.03"/><rect x="288.00" y="194.61" width="1.00" height="93.39" fill-opacity="1.00"/><rect x="288.00" y="194.54" width="1.00" height="0.07" fill-opacity="0.71"/><rect x="288.00" y="190.95" width="1.00" height="3.59" fill-opacity="0.53"/><rect x="288.00" y="180.65" width="1.00" height="10.30" fill-opacity="0.24"/><rect x="289.00" y="185.36" width="1.00" height="102.64" fill-opacity="1.00"/><rect x="289.00" y="180.65" width="1.00" height="4.71" fill-opacity="0.71"/><rect x="289.00" y="178.44" width="1.00" height="2.21" fill-opacity="0.66"/><rect x="289.00" y="174.07" width="1.00" height="4.37" fill-opacity="0.37"/><rect x="289.00" y="171.83" width="1.00" height="2.24" fill-opacity="0.29"/><rect x="290.00" y="175.81" width="1.00" height="112.19" fill-opacity="1.00"/><rect x="290.00" y="174.07" width="1.00" height="1.74" fill-opacity="0.71"/><rect x="290.00" y="164.48" width="1.00" height="9.59" fill-opacity="0.50"/><rect x="290.00" y="157.30" width="1.00" height="7.18" fill-opacity="0.21"/><rect x="291.00" y="202.25" width="1.00" height="85.75" fill-opacity="1.00"/><rect x="291.00" y="175.67" width="1.00" height="26.58" fill-opacity="0.71"/><rect x="291.00" y="171.41" width="1.00" height="4.26" fill-opacity="0.42"/><rect x="291.00" y="170.35" width="1.00" height="1.06" fill-opacity="0.13"/><rect x="291.00" y="157.30" width="1.00" height="13.05" fill-opacity="0.08"/><rect x="292.00" y="193.04" width="1.00" height="94.96" fill-opacity="1.00"/><rect x="292.00" y="185.08" width="1.00" height="7.96" fill-opacity="0.71"/><rect x="292.00" y="170.35" width="1.00" height="14.72" fill-opacity="0.53"/><rect x="292.00" y="159.12" width="1.00" height="11.23" fill-opacity="0.29"/><rect x="293.00" y="193.09" width="1.00" height="94.91" fill-opacity="1.00"/><rect x="293.00" y="185.08" width="1.00" height="8.02" fill-opacity="0.71"/><rect x="293.00" y="168.23" width="1.00" height="16.84" fill-opacity="0.61"/><rect x="293.00" y="166.37" width="1.00" height="1.86" fill-opacity="0.32"/><rect x="293.00" y="160.80" width="1.00" height="5.57" fill-opacity="0.03"/><rect x="294.00" y="191.48" width="1.00" height="96.52" fill-opacity="1.00"/><rect x="294.00" y="186.99" width="1.00" height="4.50" fill-opacity="0.71"/><rect x="294.00" y="176.26" width="1.00" height="10.73" fill-opacity="0.42"/><rect x="294.00" y="160.80" width="1.00" height="15.46" fill-opacity="0.26"/><rect x="295.00" y="181.30" width="1.00" height="106.70" fill-opacity="1.00"/><rect x="295.00" y="176.26" width="1.00" height="5.04" fill-opacity="0.71"/><rect x="295.00" y="172.17" width="1.00" height="4.09" fill-opacity="0.58"/><rect x="295.00" y="168.32" width="1.00" height="3.84" fill-opacity="0.29"/><rect x="296.00" y="222.31" width="1.00" height="65.69" fill-opacity="1.00"/><rect x="296.00" y="204.05" width="1.00" height="18.25" fill-opacity="0.71"/><rect x="296.00" y="202.11" width="1.00" height="1.94" fill-opacity="0.58"/><rect x="296.00" y="173.13" width="1.00" height="28.98" fill-opacity="0.29"/><rect x="297.00" y="231.75" width="1.00" height="56.25" fill-opacity="1.00"/><rect x="297.00" y="204.05" width="1.00" height="27.70" fill-opacity="0.71"/><rect x="297.00" y="195.91" width="1.00" height="8.15" fill-opacity="0.55"/><rect x="297.00" y="183.18" width="1.00" height="12.73" fill-opacity="0.29"/><rect x="298.00" y="218.35" width="1.00" height="69.65" fill-opacity="1.00"/><rect x="298.00" y="195.91" width="1.00" height="22.45" fill-opacity="0.71"/><rect x="298.00" y="193.24" width="1.00" height="2.67" fill-opacity="0.68"/><rect x="298.00" y="187.73" width="1.00" height="5.51" fill-opacity="0.39"/><rect x="298.00" y="185.13" width="1.00" height="2.60" fill-opacity="0.29"/><rect x="299.00" y="197.55" width="1.00" height="90.45" fill-opacity="1.00"/><rect x="299.00" y="189.13" width="1.00" height="8.42" fill-opacity="0.76"/><rect x="299.00" y="187.73" width="1.00" height="1.40" fill-opacity="0.47"/><rect x="299.00" y="180.49" width="1.00" height="7.24" fill-opacity="0.29"/><rect x="300.00" y="231.28" width="1.00" height="56.72" fill-opacity="1.00"/><rect x="300.00" y="199.69" width="1.00" height="31.59" fill-opacity="0.71"/><rect x="300.00" y="197.55" width="1.00" height="2.13" fill-opacity="0.42"/><rect x="300.00" y="183.59" width="1.00" height="13.96" fill-opacity="0.37"/><rect x="300.00" y="180.94" width="1.00" height="2.65" fill-opacity="0.29"/><rect x="301.00" y="232.81" width="1.00" height="55.19" fill-opacity="1.00"/><rect x="301.00" y="192.72" width="1.00" height="40.09" fill-opacity="0.79"/><rect x="301.00" y="191.60" width="1.00" height="1.12" fill-opacity="0.50"/><rect x="301.00" y="183.59" width="1.00" height="8.00" fill-opacity="0.21"/><rect x="302.00" y="232.81" width="1.00" height="55.19" fill-opacity="1.00"/><rect x="302.00" y="222.18" width="1.00" height="10.63" fill-opacity="0.92"/><rect x="302.00" y="200.24" width="1.00" height="21.94" fill-opacity="0.87"/><rect x="302.00" y="191.14" width="1.00" height="9.10" fill-opacity="0.58"/><rect x="302.00" y="185.37" width="1.00" height="5.77" fill-opacity="0.29"/><rect x="303.00" y="222.18" width="1.00" height="65.82" fill-opacity="1.00"/><rect x="303.00" y="196.27" width="1.00" height="25.91" fill-opacity="0.76"/><rect x="303.00" y="195.11" width="1.00" height="1.16" fill-opacity="0.58"/><rect x="303.00" y="193.28" width="1.00" height="1.83" fill-opacity="0.29"/><rect x="304.00" y="213.40" width="1.00" height="74.60" fill-opacity="1.00"/><rect x="304.00" y="212.73" width="1.00" height="0.67" fill-opacity="0.71"/><rect x="304.00" y="203.79" width="1.00" height="8.94" fill-opacity="0.42"/><rect x="304.00" y="200.14" width="1.00" height="3.65" fill-opacity="0.13"/><rect x="304.00" y="196.27" width="1.00" height="3.87" fill-opacity="0.11"/><rect x="305.00" y="237.91" width="1.00" height="50.09" fill-opacity="1.00"/><rect x="305.00" y="225.03" width="1.00" height="12.87" fill-opacity="0.71"/><rect x="305.00" y="200.14" width="1.00" height="24.90" fill-opacity="0.42"/><rect x="305.00" y="191.55" width="1.00" height="8.59" fill-opacity="0.16"/><rect x="306.00" y="206.30" width="1.00" height="81.70" fill-opacity="1.00"/><rect x="306.00" y="191.55" width="1.00" height="14.76" fill-opacity="0.71"/><rect x="306.00" y="190.34" width="1.00" height="1.20" fill-opacity="0.58"/><rect x="306.00" y="187.12" width="1.00" height="3.23" fill-opacity="0.29"/><rect x="307.00" y="199.55" width="1.00" height="88.45" fill-opacity="1.00"/><rect x="307.00" y="196.26" width="1.00" height="3.29" fill-opacity="0.71"/><rect x="307.00" y="193.70" width="1.00" height="2.56" fill-opacity="0.42"/><rect x="307.00" y="187.32" width="1.00" height="6.38" fill-opacity="0.29"/><rect x="307.00" y="187.12" width="1.00" height="0.20" fill-opacity="0.00"/><rect x="308.00" y="225.56" width="1.00" height="62.44" fill-opacity="1.00"/><rect x="308.00" y="193.70" width="1.00" height="31.87" fill-opacity="0.71"/><rect x="308.00" y="183.75" width="1.00" height="9.95" fill-opacity="0.55"/><rect x="308.00" y="180.87" width="1.00" height="2.88" fill-opacity="0.29"/><rect x="309.00" y="223.62" width="1.00" height="64.38" fill-opacity="1.00"/><rect x="309.00" y="203.97" width="1.00" height="19.65" fill-opacity="0.71"/><rect x="309.00" y="184.87" width="1.00" height="19.10" fill-opacity="0.42"/><rect x="309.00" y="183.75" width="1.00" height="1.12" fill-opacity="0.13"/><rect x="309.00" y="182.93" width="1.00" height="0.82" fill-opacity="0.10"/><rect x="310.00" y="202.25" width="1.00" height="85.75" fill-opacity="1.00"/><rect x="310.00" y="191.47" width="1.00" height="10.77" fill-opacity="0.71"/><rect x="310.00" y="182.93" width="1.00" height="8.54" fill-opacity="0.47"/><rect x="310.00" y="182.54" width="1.00" height="0.39" fill-opacity="0.29"/><rect x="311.00" y="225.58" width="1.00" height="62.42" fill-opacity="1.00"/><rect x="311.00" y="195.48" width="1.00" height="30.09" fill-opacity="0.71"/><rect x="311.00" y="191.47" width="1.00" height="4.01" fill-opacity="0.42"/><rect x="311.00" y="185.52" width="1.00" height="5.96" fill-opacity="0.37"/><rect x="311.00" y="181.87" width="1.00" height="3.65" fill-opacity="0.08"/><rect x="312.00" y="187.40" width="1.00" height="100.60" fill-opacity="1.00"/><rect x="312.00" y="183.83" width="1.00" height="3.57" fill-opacity="0.79"/><rect x="312.00" y="181.87" width="1.00" height="1.96" fill-opacity="0.50"/><rect x="312.00" y="180.55" width="1.00" height="1.32" fill-opacity="0.29"/><rect x="313.00" y="217.83" width="1.00" height="70.17" fill-opacity="1.00"/><rect x="313.00" y="206.83" width="1.00" height="11.00" fill-opacity="0.95"/><rect x="313.00" y="193.79" width="1.00" height="13.05" fill-opacity="0.66"/><rect x="313.00" y="187.40" width="1.00" height="6.38" fill-opacity="0.37"/><rect x="313.00" y="182.13" width="1.00" height="5.28" fill-opacity="0.29"/><rect x="314.00" y="217.83" width="1.00" height="70.17" fill-opacity="1.00"/><rect x="314.00" y="188.77" width="1.00" height="29.07" fill-opacity="0.76"/><rect x="314.00" y="188.08" width="1.00" height="0.68" fill-opacity="0.58"/><rect x="314.00" y="178.75" width="1.00" height="9.33" fill-opacity="0.29"/><rect x="315.00" y="212.22" width="1.00" height="75.78" fill-opacity="1.00"/><rect x="315.00" y="191.02" width="1.00" height="21.21" fill-opacity="0.71"/><rect x="315.00" y="188.77" width="1.00" height="2.25" fill-opacity="0.42"/><rect x="315.00" y="185.93" width="1.00" height="2.83" fill-opacity="0.31"/><rect x="315.00" y="181.37" width="1.00" height="4.56" fill-opacity="0.02"/><rect x="316.00" y="193.72" width="1.00" height="94.28" fill-opacity="1.00"/><rect x="316.00" y="181.37" width="1.00" height="12.35" fill-opacity="0.84"/><rect x="316.00" y="179.93" width="1.00" height="1.44" fill-opacity="0.58"/><rect x="316.00" y="175.76" width="1.00" height="4.17" fill-opacity="0.29"/><rect x="317.00" y="228.13" width="1.00" height="59.87" fill-opacity="1.00"/><rect x="317.00" y="193.72" width="1.00" height="34.41" fill-opacity="0.71"/><rect x="317.00" y="190.15" width="1.00" height="3.57" fill-opacity="0.58"/><rect x="317.00" y="178.73" width="1.00" height="11.43" fill-opacity="0.29"/><rect x="318.00" y="228.13" width="1.00" height="59.87" fill-opacity="1.00"/><rect x="318.00" y="210.87" width="1.00" height="17.26" fill-opacity="1.00"/><rect x="318.00" y="204.18" width="1.00" height="6.69" fill-opacity="0.71"/><rect x="318.00" y="190.59" width="1.00" height="13.58" fill-opacity="0.42"/><rect x="318.00" y="183.63" width="1.00" height="6.96" fill-opacity="0.13"/><rect x="319.00" y="201.65" width="1.00" height="86.35" fill-opacity="1.00"/><rect x="319.00" y="187.21" width="1.00" height="14.44" fill-opacity="0.71"/><rect x="319.00" y="187.04" width="1.00" height="0.16" fill-opacity="0.45"/><rect x="319.00" y="183.63" width="1.00" height="3.41" fill-opacity="0.16"/><rect x="320.00" y="231.82" width="1.00" height="56.18" fill-opacity="1.00"/><rect x="320.00" y="200.73" width="1.00" height="31.09" fill-opacity="0.90"/><rect x="320.00" y="188.53" width="1.00" height="12.20" fill-opacity="0.61"/><rect x="320.00" y="187.21" width="1.00" height="1.32" fill-opacity="0.32"/><rect x="320.00" y="180.34" width="1.00" height="6.87" fill-opacity="0.29"/><rect x="321.00" y="231.82" width="1.00" height="56.18" fill-opacity="1.00"/><rect x="321.00" y="215.30" width="1.00" height="16.52" fill-opacity="0.81"/><rect x="321.00" y="190.48" width="1.00" height="24.82" fill-opacity="0.58"/><rect x="321.00" y="182.93" width="1.00" height="7.55" fill-opacity="0.29"/><rect x="322.00" y="222.23" width="1.00" height="65.77" fill-opacity="1.00"/><rect x="322.00" y="215.30" width="1.00" height="6.94" fill-opacity="0.71"/><rect x="322.00" y="209.08" width="1.00" height="6.22" fill-opacity="0.66"/><rect x="322.00" y="188.02" width="1.00" height="21.06" fill-opacity="0.37"/><rect x="322.00" y="187.64" width="1.00" height="0.37" fill-opacity="0.08"/><rect x="323.00" y="197.33" width="1.00" height="90.67" fill-opacity="1.00"/><rect x="323.00" y="187.64" width="1.00" height="9.68" fill-opacity="0.71"/><rect x="323.00" y="185.50" width="1.00" height="2.14" fill-opacity="0.50"/><rect x="323.00" y="181.33" width="1.00" height="4.17" fill-opacity="0.21"/><rect x="324.00" y="220.47" width="1.00" height="67.53" fill-opacity="1.00"/><rect x="324.00" y="205.21" width="1.00" height="15.26" fill-opacity="0.71"/><rect x="324.00" y="204.71" width="1.00" height="0.50" fill-opacity="0.42"/><rect x="324.00" y="193.69" width="1.00" height="11.02" fill-opacity="0.13"/><rect x="324.00" y="181.33" width="1.00" height="12.36" fill-opacity="0.08"/><rect x="325.00" y="210.31" width="1.00" height="77.69" fill-opacity="1.00"/><rect x="325.00" y="209.44" width="1.00" height="0.87" fill-opacity="0.71"/><rect x="325.00" y="197.20" width="1.00" height="12.24" fill-opacity="0.53"/><rect x="325.00" y="193.69" width="1.00" height="3.51" fill-opacity="0.24"/><rect x="326.00" y="217.02" width="1.00" height="70.98" fill-opacity="1.00"/><rect x="326.00" y="214.77" width="1.00" height="2.25" fill-opacity="0.71"/><rect x="326.00" y="209.44" width="1.00" height="5.33" fill-opacity="0.42"/><rect x="326.00" y="208.30" width="1.00" height="1.14" fill-opacity="0.31"/><rect x="326.00" y="200.22" width="1.00" height="8.08" fill-opacity="0.29"/><rect x="327.00" y="231.68" width="1.00" height="56.32" fill-opacity="1.00"/><rect x="327.00" y="222.77" width="1.00" height="8.91" fill-opacity="0.84"/><rect x="327.00" y="220.82" width="1.00" height="1.95" fill-opacity="0.56"/><rect x="327.00" y="208.30" width="1.00" height="12.52" fill-opacity="0.27"/><rect x="328.00" y="251.14" width="1.00" height="36.86" fill-opacity="1.00"/><rect x="328.00" y="245.87" width="1.00" height="5.27" fill-opacity="0.71"/><rect x="328.00" y="243.06" width="1.00" height="2.81" fill-opacity="0.42"/><rect x="328.00" y="231.68" width="1.00" height="11.38" fill-opacity="0.13"/><rect x="329.00" y="260.84" width="1.00" height="27.16" fill-opacity="1.00"/><rect x="329.00" y="255.07" width="1.00" height="5.77" fill-opacity="0.71"/><rect x="329.00" y="253.88" width="1.00" height="1.19" fill-opacity="0.58"/><rect x="329.00" y="253.01" width="1.00" height="0.86" fill-opacity="0.29"/><rect x="329.00" y="251.14" width="1.00" height="1.88" fill-opacity="0.00"/><rect x="330.00" y="266.75" width="1.00" height="21.25" fill-opacity="1.00"/><rect x="330.00" y="265.45" width="1.00" height="1.30" fill-opacity="0.71"/><rect x="330.00" y="258.54" width="1.00" height="6.91" fill-opacity="0.45"/><rect x="330.00" y="255.07" width="1.00" height="3.47" fill-opacity="0.16"/><rect x="331.00" y="277.17" width="1.00" height="10.83" fill-opacity="1.00"/><rect x="331.00" y="274.69" width="1.00" height="2.47" fill-opacity="0.90"/><rect x="331.00" y="272.68" width="1.00" height="2.02" fill-opacity="0.61"/><rect x="331.00" y="270.03" width="1.00" height="2.65" fill-opacity="0.32"/><rect x="331.00" y="265.45" width="1.00" height="4.58" fill-opacity="0.03"/><rect x="332.00" y="282.32" width="1.00" height="5.68" fill-opacity="1.00"/><rect x="332.00" y="280.54" width="1.00" height="1.78" fill-opacity="0.77"/><rect x="332.00" y="277.19" width="1.00" height="3.36" fill-opacity="0.48"/><rect x="332.00" y="277.17" width="1.00" height="0.02" fill-opacity="0.19"/><rect x="333.00" y="285.60" width="1.00" height="2.40" fill-opacity="0.63"/><rect x="333.00" y="284.13" width="1.00" height="1.47" fill-opacity="0.35"/><rect x="333.00" y="282.32" width="1.00" height="1.81" fill-opacity="0.06"/></g><path d="M333.60 288.0V283.5M334.84 288.0V285.7M336.02 288.0V283.8M337.27 288.0V282.3M338.47 288.0V284.3M339.85 288.0V281.9M340.93 288.0V281.9M342.32 288.0V284.6M343.24 288.0V285.9M344.72 288.0V284.4M345.99 288.0V282.2M346.90 288.0V283.9M347.84 288.0V282.4M348.88 288.0V281.6M350.06 288.0V283.5M351.47 288.0V283.8M335.50 288.0V275.4M343.30 288.0V273.0M349.50 288.0V265.3M339.80 288.0V281.0M347.60 288.0V281.5" stroke="#0000ff" stroke-width="0.45" fill="none"/><path d="M71.80 288.0V272.5M98.00 288.0V234.0M101.60 288.0V208.8M104.30 288.0V239.5M106.40 288.0V234.0M108.40 288.0V228.6M110.90 288.0V226.0M112.60 288.0V217.6M117.40 288.0V177.0" stroke="#0000ff" stroke-opacity="0.5" stroke-width="0.9" fill="none"/><polygon points="395.6,29.5 397.0,29.5 397.2,57 397.6,95 398.8,145 398.9,288 393.3,288 393.3,160 394.3,145 395.4,95 395.5,57" fill="#0000ff"/><line x1="64.6" y1="137.8" x2="412" y2="137.8" stroke="#ff0000" stroke-width="1.7" stroke-dasharray="6 5.9" stroke-dashoffset="-0.6"/><line x1="393" y1="32.1" x2="393" y2="288" stroke="#ff0000" stroke-width="1.7" stroke-dasharray="6 5.9"/><defs><radialGradient id="g" cx="0.4" cy="0.35" r="0.7"><stop offset="0" stop-color="#a8c890"/><stop offset="0.45" stop-color="#4e8a2c"/><stop offset="1" stop-color="#3a6e1c"/></radialGradient></defs><circle cx="393" cy="147.1" r="2.65" fill="url(#g)"/><g stroke="#000" stroke-width="1.9" fill="none"><path d="M64.3 29.7V288.4M63.4 288.4H412M63.4 29.7H412"/><path d="M64.3 288.3H69"/><path d="M64.3 251.4H69"/><path d="M64.3 214.5H69"/><path d="M64.3 177.6H69"/><path d="M64.3 140.7H69"/><path d="M64.3 103.8H69"/><path d="M64.3 66.9H69"/><path d="M64.3 30.0H69"/><path d="M64.4 288.4V283.8"/><path d="M122.3 288.4V283.8"/><path d="M180.2 288.4V283.8"/><path d="M238.1 288.4V283.8"/><path d="M296.0 288.4V283.8"/><path d="M353.9 288.4V283.8"/><path d="M411.8 288.4V283.8"/></g><g stroke="#0000ff" stroke-width="1.9" fill="none"><path d="M412.5 28.8V289.4"/><path d="M412.5 288.0H407.2"/><path d="M412.5 262.2H407.2"/><path d="M412.5 236.4H407.2"/><path d="M412.5 210.6H407.2"/><path d="M412.5 184.8H407.2"/><path d="M412.5 159.0H407.2"/><path d="M412.5 133.2H407.2"/><path d="M412.5 107.4H407.2"/><path d="M412.5 81.6H407.2"/><path d="M412.5 55.8H407.2"/><path d="M412.5 30.0H407.2"/></g><g font-family="Liberation Serif" font-weight="bold" fill="#000"><text transform="translate(58.80,293.00) scale(1,1.03)" font-size="13.3" text-anchor="end">0</text><text transform="translate(58.80,256.10) scale(1,1.03)" font-size="13.3" text-anchor="end">10</text><text transform="translate(58.80,219.20) scale(1,1.03)" font-size="13.3" text-anchor="end">20</text><text transform="translate(58.80,182.30) scale(1,1.03)" font-size="13.3" text-anchor="end">30</text><text transform="translate(58.80,145.40) scale(1,1.03)" font-size="13.3" text-anchor="end">40</text><text transform="translate(58.80,108.50) scale(1,1.03)" font-size="13.3" text-anchor="end">50</text><text transform="translate(58.80,71.60) scale(1,1.03)" font-size="13.3" text-anchor="end">60</text><text transform="translate(58.80,34.70) scale(1,1.03)" font-size="13.3" text-anchor="end">70</text><text transform="translate(64.80,304.70) scale(1,1.03)" font-size="13.3" text-anchor="middle">0</text><text transform="translate(122.70,304.70) scale(1,1.03)" font-size="13.3" text-anchor="middle">50</text><text transform="translate(180.60,304.70) scale(1,1.03)" font-size="13.3" text-anchor="middle">100</text><text transform="translate(238.50,304.70) scale(1,1.03)" font-size="13.3" text-anchor="middle">150</text><text transform="translate(296.40,304.70) scale(1,1.03)" font-size="13.3" text-anchor="middle">200</text><text transform="translate(354.30,304.70) scale(1,1.03)" font-size="13.3" text-anchor="middle">250</text><text transform="translate(412.20,304.70) scale(1,1.03)" font-size="13.3" text-anchor="middle">300</text></g><g font-family="Liberation Serif" font-weight="bold" fill="#0000ff"><text transform="translate(418.40,292.40) scale(1,1.03)" font-size="13.3">0</text><text transform="translate(418.40,266.60) scale(1,1.03)" font-size="13.3">10</text><text transform="translate(418.40,240.80) scale(1,1.03)" font-size="13.3">20</text><text transform="translate(418.40,215.00) scale(1,1.03)" font-size="13.3">30</text><text transform="translate(418.40,189.20) scale(1,1.03)" font-size="13.3">40</text><text transform="translate(418.40,163.40) scale(1,1.03)" font-size="13.3">50</text><text transform="translate(418.40,137.60) scale(1,1.03)" font-size="13.3">60</text><text transform="translate(418.40,111.80) scale(1,1.03)" font-size="13.3">70</text><text transform="translate(418.40,86.00) scale(1,1.03)" font-size="13.3">80</text><text transform="translate(418.40,60.20) scale(1,1.03)" font-size="13.3">90</text><text transform="translate(418.40,34.40) scale(1,1.03)" font-size="13.3">100</text></g><g font-family="Liberation Serif" font-weight="bold" fill="#000"><text transform="translate(238.00,320.80) scale(1,1.0)" font-size="14.6" text-anchor="middle">Detection time (s)</text><text transform="translate(40.9,175.4) rotate(-90) scale(1.12,1)" font-size="15.6" font-style="italic" font-weight="bold">σ</text><text transform="translate(43.60,167.60) rotate(-90) scale(1,1.0)" font-size="9.6">1</text><text transform="translate(40.80,158.70) rotate(-90) scale(1,1.0)" font-size="14.2">(MPa)</text><text transform="translate(445.30,150.30) rotate(-90) scale(1,1.0)" font-size="14.8" text-anchor="middle" fill="#0000ff">AE events</text><line x1="71.3" y1="48.8" x2="103" y2="48.8" stroke="#000" stroke-width="2.3"/><rect x="72.5" y="59.3" width="29.7" height="10.5" fill="#0000ff"/><text transform="translate(105.70,52.80) scale(1,1.0)" font-size="13.55">Stress - time curve, 46#</text><text transform="translate(105.70,68.80) scale(1,1.0)" font-size="13.4">AE events</text><text transform="translate(171.20,133.40) scale(1,1.0)" font-size="12.4">Prescribed stress level</text><text transform="translate(294.20,78.90) scale(1,1.0)" font-size="12.2">Stress level of</text><text transform="translate(294.20,92.30) scale(1,1.0)" font-size="12.4">reloading with AE</text><text transform="translate(342.10,152.50) scale(1,1.08)" font-size="12.2" fill="#0c800c"><tspan font-style="italic">FR</tspan>=0.95</text></g><g font-family="Liberation Serif" font-size="20.5"><text x="225.2" y="370.9">(</text><text x="232.2" y="370.4" font-weight="bold" font-size="19.5">e</text><text x="241.9" y="370.9">)</text></g></svg></body></html>
